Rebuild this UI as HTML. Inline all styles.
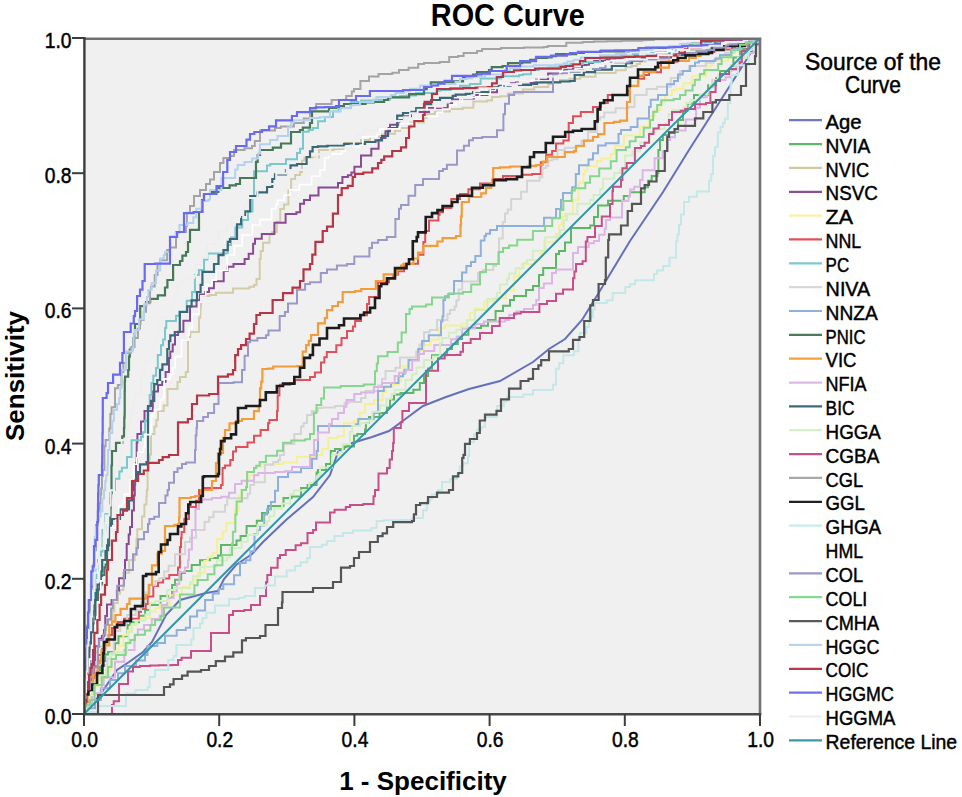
<!DOCTYPE html><html><head><meta charset="utf-8"><style>html,body{margin:0;padding:0;background:#fff;}svg{display:block}text{font-family:"Liberation Sans",sans-serif;fill:#000}.t{stroke:#000;stroke-width:0.45px}</style></head><body>
<svg width="962" height="797" viewBox="0 0 962 797">
<rect x="84" y="38" width="676" height="676" fill="#f0f0f0"/>
<defs><filter id="bl" x="0" y="0" width="1" height="1"><feGaussianBlur stdDeviation="0.35"/></filter></defs><g filter="url(#bl)"><path d="M84.0,714.0 100.0,695.0 117.0,670.0 129.0,662.0 143.0,652.0 152.0,642.0 166.0,615.0 180.0,600.0 206.0,593.0 218.0,591.0 224.0,579.0 236.0,565.0 252.0,554.0 263.0,542.0 286.0,520.0 313.0,497.0 330.0,475.0 338.0,452.0 352.0,443.0 372.0,437.0 389.0,431.0 404.0,420.0 423.0,406.0 446.0,397.0 469.0,389.0 500.0,381.0 533.0,362.0 549.0,349.0 565.0,339.0 582.0,320.0 598.0,294.0 630.0,241.0 663.0,192.0 689.0,150.0 745.0,62.0 760.0,38.0" fill="none" stroke="#6570bc" stroke-width="2.0" stroke-linejoin="miter"/>
<path d="M84.0,714.0 87.0,714.0 87.0,703.0 89.4,703.0 89.4,698.4 92.0,698.4 92.0,690.0 92.0,686.8 93.4,686.8 93.4,681.6 95.6,681.6 95.6,670.0 100.0,670.0 100.0,660.9 105.3,660.9 105.3,654.6 107.9,654.6 107.9,652.0 111.0,652.0 115.0,652.0 115.0,645.0 115.0,643.2 118.5,643.2 118.5,636.3 125.0,636.3 127.6,636.3 127.6,628.3 127.6,625.0 130.0,625.0 130.0,622.2 132.6,622.2 139.0,622.2 139.0,615.7 145.1,615.7 145.1,609.9 150.0,609.9 150.0,605.0 160.5,605.0 160.5,600.2 160.5,595.9 167.3,595.9 172.1,595.9 172.1,592.1 172.1,585.0 175.0,585.0 175.0,579.8 181.2,579.8 181.2,573.0 184.9,573.0 184.9,571.1 191.7,571.1 191.7,565.0 200.0,565.0 200.0,560.3 209.9,560.3 209.9,557.9 213.0,557.9 217.9,557.9 217.9,555.6 221.0,555.6 221.0,551.6 221.0,545.0 230.0,545.0 236.5,545.0 236.5,540.4 240.6,540.4 240.6,536.1 246.6,536.1 246.6,531.4 246.6,526.0 254.0,526.0 256.8,526.0 256.8,520.8 262.0,520.8 262.0,517.0 262.0,513.0 268.1,513.0 268.1,506.0 275.0,506.0 283.5,506.0 283.5,500.7 283.5,498.0 288.0,498.0 291.7,498.0 291.7,496.4 301.0,496.4 301.0,492.0 301.0,488.1 307.6,488.1 307.6,485.0 312.0,485.0 316.6,485.0 316.6,472.6 318.0,472.6 318.0,470.0 326.0,470.0 326.0,464.0 330.8,464.0 330.8,461.0 330.8,451.0 335.0,451.0 335.0,449.0 344.0,449.0 344.0,446.6 348.7,446.6 354.0,446.6 354.0,438.0 354.0,435.7 357.3,435.7 357.3,434.0 365.0,434.0 365.0,429.4 365.9,429.4 365.9,423.0 369.0,423.0 369.0,416.9 379.6,416.9 379.6,413.0 382.0,413.0 386.9,413.0 386.9,407.5 390.0,407.5 390.0,402.0 390.0,399.4 394.0,399.4 394.0,394.5 400.6,394.5 400.6,393.0 408.0,393.0 413.3,393.0 413.3,389.7 419.8,389.7 419.8,383.1 424.0,383.1 424.0,376.0 428.0,376.0 428.0,368.6 432.0,368.6 432.0,359.0 432.0,355.3 440.5,355.3 447.1,355.3 447.1,352.6 447.1,349.0 452.0,349.0 452.0,343.9 457.8,343.9 457.8,339.0 462.0,339.0 462.0,334.8 468.4,334.8 468.4,328.0 473.0,328.0 481.0,328.0 481.0,325.8 488.0,325.8 488.0,320.0 495.6,320.0 495.6,317.5 495.6,311.0 503.0,311.0 503.0,305.8 510.0,305.8 510.0,300.0 514.0,300.0 514.0,296.0 519.3,296.0 526.0,296.0 526.0,290.0 533.0,290.0 533.0,286.1 539.0,286.1 539.0,281.0 539.0,275.1 543.2,275.1 543.2,268.0 548.0,268.0 556.0,268.0 556.0,262.0 556.0,253.9 559.0,253.9 559.0,251.0 565.0,251.0 565.0,242.6 566.8,242.6 571.0,242.6 571.0,240.0 571.0,240.0 571.0,228.0 580.9,228.0 580.9,228.0 588.0,228.0 588.0,228.0 590.2,228.0 590.2,225.5 594.0,225.5 594.0,217.0 598.0,217.0 598.0,209.0 598.0,205.5 604.9,205.5 608.0,205.5 608.0,202.0 608.0,200.7 616.4,200.7 623.8,200.7 623.8,198.0 623.8,196.0 630.0,196.0 630.0,192.2 637.8,192.2 644.7,192.2 644.7,187.2 648.1,187.2 648.1,182.1 648.1,180.8 651.7,180.8 651.7,176.0 657.0,176.0 657.4,176.0 657.4,172.9 658.4,172.9 658.4,158.8 658.4,150.0 660.0,150.0 660.0,140.0 662.9,140.0 662.9,135.1 668.9,135.1 668.9,132.0 672.8,132.0 678.0,132.0 678.0,128.1 678.0,120.0 683.0,120.0 683.0,110.4 685.7,110.4 687.5,110.4 687.5,103.6 694.0,103.6 694.0,98.9 694.0,95.0 700.0,95.0 708.1,95.0 708.1,90.0 708.1,85.2 716.1,85.2 716.1,78.0 717.7,78.0 720.0,78.0 720.0,75.0 720.0,71.0 725.5,71.0 731.2,71.0 731.2,65.8 733.4,65.8 733.4,57.5 740.0,57.5 740.0,55.0 740.0,49.0 748.0,49.0 748.0,44.7 751.9,44.7 751.9,41.2 758.4,41.2 758.4,38.0 760.0,38.0" fill="none" stroke="#5cb865" stroke-width="2" stroke-linejoin="miter"/>
<path d="M84.0,714.0 85.7,714.0 85.7,702.9 85.7,695.1 86.3,695.1 87.9,695.1 87.9,686.2 90.0,686.2 90.0,680.0 90.0,670.5 91.5,670.5 91.5,661.0 93.2,661.0 93.2,652.5 96.0,652.5 98.0,652.5 98.0,650.0 98.0,646.4 101.0,646.4 103.3,646.4 103.3,635.5 105.7,635.5 105.7,629.2 105.7,620.0 108.0,620.0 112.8,620.0 112.8,610.9 114.3,610.9 114.3,603.0 117.7,603.0 117.7,593.6 120.0,593.6 120.0,590.0 123.4,590.0 123.4,584.1 123.4,572.7 125.4,572.7 129.2,572.7 129.2,569.1 129.2,560.0 132.0,560.0 134.7,560.0 134.7,555.0 136.5,555.0 136.5,545.4 136.5,539.2 137.3,539.2 137.3,529.2 141.1,529.2 142.0,529.2 142.0,520.0 142.0,516.6 143.1,516.6 144.4,516.6 144.4,504.4 146.4,504.4 146.4,496.7 146.8,496.7 146.8,490.0 147.6,490.0 147.6,484.9 147.6,470.0 149.0,470.0 149.0,459.3 149.7,459.3 149.7,454.4 150.8,454.4 151.0,454.4 151.0,440.2 151.0,434.0 152.0,434.0 154.4,434.0 154.4,426.5 156.4,426.5 156.4,420.1 158.0,420.1 158.0,411.0 163.7,411.0 163.7,405.6 167.5,405.6 167.5,398.7 167.5,389.0 169.0,389.0 177.5,389.0 177.5,382.0 180.0,382.0 180.0,377.0 185.8,377.0 185.8,372.0 188.0,372.0 188.0,370.0 188.0,370.0 188.0,361.1 188.0,356.3 188.0,356.3 188.0,337.0 188.0,337.0 190.3,337.0 190.3,333.4 190.3,332.0 199.0,332.0 199.0,317.8 199.6,317.8 200.3,317.8 200.3,312.5 200.5,312.5 200.5,306.8 201.0,306.8 201.0,296.0 209.5,296.0 209.5,295.1 216.0,295.1 216.0,294.0 216.0,292.8 221.8,292.8 233.0,292.8 233.0,292.0 233.0,288.6 240.7,288.6 249.4,288.6 249.4,286.8 254.0,286.8 254.0,285.0 256.5,285.0 256.5,279.1 259.7,279.1 259.7,266.6 259.7,258.9 260.7,258.9 260.7,251.0 263.0,251.0 263.0,242.7 265.2,242.7 269.5,242.7 269.5,234.7 272.2,234.7 272.2,231.9 276.8,231.9 276.8,221.8 280.3,221.8 280.3,213.4 280.3,209.0 284.0,209.0 284.0,204.4 286.3,204.4 288.4,204.4 288.4,190.6 291.1,190.6 291.1,184.7 291.1,179.0 293.0,179.0 295.1,179.0 295.1,174.9 300.1,174.9 300.1,171.9 302.0,171.9 302.0,162.0 302.0,160.8 304.4,160.8 304.4,157.6 309.1,157.6 319.0,157.6 319.0,153.0 319.0,149.9 333.8,149.9 333.8,149.0 340.0,149.0 345.3,149.0 345.3,146.1 345.3,143.0 353.8,143.0 361.0,143.0 361.0,140.0 369.9,140.0 369.9,137.0 379.3,137.0 379.3,134.6 385.0,134.6 385.0,133.8 394.9,133.8 394.9,130.7 400.0,130.7 400.0,128.0 410.8,128.0 410.8,124.0 410.8,122.5 414.7,122.5 423.9,122.5 423.9,119.8 423.9,118.1 426.5,118.1 426.5,113.9 434.9,113.9 434.9,111.4 439.4,111.4 450.0,111.4 450.0,110.0 450.0,109.0 454.6,109.0 462.8,109.0 462.8,107.7 473.4,107.7 473.4,104.2 473.4,101.4 487.0,101.4 487.0,100.5 492.0,100.5 492.0,97.0 500.0,97.0 500.0,96.2 507.8,96.2 507.8,93.5 519.2,93.5 522.8,93.5 522.8,92.2 522.8,89.5 534.2,89.5 534.2,86.9 541.8,86.9 548.3,86.9 548.3,85.4 548.3,84.1 551.1,84.1 551.1,82.0 560.0,82.0 560.0,80.1 569.5,80.1 569.5,78.8 574.4,78.8 580.1,78.8 580.1,76.7 595.5,76.7 595.5,75.4 595.5,73.0 605.7,73.0 615.7,73.0 615.7,70.3 625.7,70.3 625.7,68.9 625.7,66.9 631.6,66.9 631.6,66.0 636.6,66.0 636.6,64.0 640.0,64.0 640.0,61.4 645.5,61.4 645.5,58.8 655.1,58.8 655.1,56.8 662.8,56.8 669.0,56.8 669.0,56.1 676.7,56.1 676.7,53.4 685.2,53.4 685.2,50.8 685.2,50.0 700.0,50.0 707.6,50.0 707.6,48.9 707.6,47.9 717.1,47.9 717.1,46.3 729.5,46.3 729.5,44.0 736.4,44.0 744.4,44.0 744.4,41.6 744.4,39.2 751.2,39.2 751.2,38.0 760.0,38.0" fill="none" stroke="#d2cca8" stroke-width="2" stroke-linejoin="miter"/>
<path d="M84.0,714.0 84.0,707.2 86.0,707.2 86.6,707.2 86.6,695.8 86.6,690.0 88.0,690.0 90.3,690.0 90.3,679.8 92.5,679.8 92.5,673.3 92.5,666.4 94.4,666.4 94.4,660.0 95.0,660.0 95.0,646.2 98.9,646.2 98.9,638.8 100.4,638.8 101.9,638.8 101.9,636.0 104.0,636.0 104.0,630.0 105.3,630.0 105.3,623.6 105.3,615.9 107.0,615.9 107.0,604.4 111.6,604.4 111.6,600.0 115.0,600.0 116.9,600.0 116.9,593.2 116.9,590.5 119.0,590.5 119.0,578.3 121.2,578.3 125.0,578.3 125.0,565.0 125.0,560.0 125.9,560.0 126.7,560.0 126.7,544.1 128.7,544.1 128.7,534.5 130.0,534.5 130.0,527.0 132.0,527.0 132.0,520.0 132.0,510.4 133.1,510.4 133.9,510.4 133.9,495.5 134.8,495.5 134.8,484.6 135.2,484.6 135.2,480.3 136.0,480.3 136.0,470.0 136.0,462.8 136.4,462.8 136.7,462.8 136.7,452.1 136.7,442.5 137.4,442.5 137.4,434.0 138.0,434.0 141.0,434.0 141.0,426.0 141.0,421.5 144.5,421.5 144.5,411.0 146.0,411.0 152.8,411.0 152.8,402.5 152.8,391.5 156.0,391.5 158.0,391.5 158.0,389.0 158.0,385.1 162.2,385.1 162.2,381.7 165.6,381.7 165.6,372.0 169.0,372.0 169.0,357.9 170.3,357.9 170.3,351.6 172.7,351.6 172.7,344.4 173.2,344.4 175.0,344.4 175.0,335.0 178.1,335.0 178.1,331.8 183.4,331.8 183.4,327.7 183.4,320.7 185.3,320.7 190.0,320.7 190.0,312.0 190.0,306.4 196.5,306.4 196.5,300.3 199.9,300.3 199.9,294.6 205.2,294.6 205.2,292.0 209.0,292.0 209.0,288.2 213.9,288.2 213.9,281.2 219.0,281.2 223.7,281.2 223.7,276.0 223.7,271.0 227.4,271.0 227.4,266.8 233.5,266.8 233.5,264.0 237.0,264.0 244.6,264.0 244.6,259.1 248.7,259.1 248.7,253.7 253.1,253.7 253.1,249.2 253.1,243.8 255.0,243.8 255.0,238.8 261.8,238.8 261.8,234.0 266.0,234.0 274.4,234.0 274.4,227.8 274.4,222.7 283.2,222.7 285.6,222.7 285.6,218.9 285.6,214.0 288.0,214.0 296.4,214.0 296.4,212.3 300.1,212.3 300.1,207.2 300.1,203.7 304.0,203.7 304.0,200.0 310.0,200.0 310.0,195.4 312.7,195.4 318.5,195.4 318.5,193.1 318.5,187.5 327.5,187.5 338.0,187.5 338.0,183.0 342.4,183.0 342.4,176.9 347.9,176.9 347.9,175.2 351.4,175.2 351.4,172.6 354.4,172.6 354.4,166.7 361.0,166.7 361.0,160.0 361.0,155.5 364.9,155.5 371.3,155.5 371.3,148.8 378.6,148.8 378.6,144.6 378.6,140.0 381.0,140.0 381.0,138.0 385.5,138.0 385.5,131.2 390.0,131.2 390.0,124.7 399.4,124.7 399.4,120.0 404.0,120.0 404.0,116.3 411.0,116.3 411.0,112.9 413.8,112.9 413.8,111.9 421.1,111.9 429.0,111.9 429.0,109.0 429.0,108.0 440.1,108.0 447.7,108.0 447.7,105.1 447.7,103.0 452.0,103.0 452.0,99.6 460.2,99.6 460.2,98.6 463.1,98.6 474.0,98.6 474.0,95.0 487.5,95.0 487.5,92.2 497.0,92.2 497.0,90.7 497.0,88.0 500.0,88.0 500.0,85.8 510.9,85.8 510.9,83.3 516.1,83.3 516.1,82.4 527.1,82.4 536.0,82.4 536.0,80.0 536.0,79.1 539.9,79.1 548.1,79.1 548.1,76.9 548.1,73.4 553.0,73.4 564.4,73.4 564.4,69.8 573.0,69.8 573.0,68.6 582.0,68.6 582.0,65.0 589.0,65.0 589.0,63.0 594.3,63.0 594.3,61.0 605.1,61.0 605.1,59.3 614.8,59.3 614.8,58.3 620.9,58.3 620.9,56.8 630.1,56.8 630.1,56.3 640.0,56.3 640.0,55.0 640.0,53.9 656.2,53.9 656.2,52.8 664.9,52.8 674.2,52.8 674.2,52.2 679.0,52.2 679.0,51.1 679.0,49.0 683.6,49.0 683.6,47.1 690.0,47.1 700.0,47.1 700.0,46.0 706.6,46.0 706.6,44.8 706.6,44.0 720.8,44.0 720.8,42.6 727.1,42.6 727.1,40.9 735.3,40.9 735.3,40.0 740.3,40.0 746.9,40.0 746.9,38.9 760.0,38.9 760.0,38.0" fill="none" stroke="#8a4a94" stroke-width="2" stroke-linejoin="miter"/>
<path d="M84.0,714.0 84.0,707.4 87.7,707.4 87.7,701.7 93.5,701.7 93.5,695.0 95.0,695.0 95.0,686.3 97.9,686.3 97.9,678.0 99.5,678.0 105.9,678.0 105.9,673.2 105.9,670.0 110.0,670.0 111.5,670.0 111.5,660.1 111.5,654.9 115.9,654.9 115.9,650.9 118.5,650.9 118.5,645.7 123.2,645.7 123.2,635.0 128.0,635.0 128.0,630.4 131.3,630.4 131.3,625.3 136.7,625.3 136.7,618.3 142.7,618.3 150.0,618.3 150.0,615.0 150.0,611.6 155.5,611.6 155.5,608.1 159.8,608.1 159.8,604.4 162.3,604.4 170.0,604.4 170.0,600.0 170.0,595.3 175.9,595.3 181.9,595.3 181.9,590.1 181.9,587.0 186.2,587.0 190.0,587.0 190.0,584.0 193.2,584.0 193.2,579.6 197.5,579.6 197.5,572.9 204.4,572.9 204.4,568.4 204.4,561.1 207.8,561.1 207.8,557.2 212.6,557.2 212.6,553.0 216.0,553.0 217.2,553.0 217.2,544.8 217.2,538.9 219.1,538.9 222.6,538.9 222.6,531.6 226.4,531.6 226.4,526.3 226.4,522.9 231.2,522.9 235.0,522.9 235.0,515.0 235.0,510.6 236.2,510.6 238.7,510.6 238.7,499.3 238.7,496.3 241.4,496.3 241.4,490.0 246.0,490.0 246.0,480.7 248.8,480.7 248.8,475.6 251.7,475.6 254.0,475.6 254.0,470.0 254.0,468.1 257.4,468.1 257.4,467.1 261.0,467.1 261.0,464.0 275.0,464.0 282.5,464.0 282.5,462.5 297.0,462.5 297.0,462.0 297.0,456.7 304.3,456.7 314.0,456.7 314.0,455.0 322.0,455.0 322.0,449.0 328.4,449.0 328.4,442.5 328.4,438.0 335.0,438.0 337.5,438.0 337.5,436.3 344.0,436.3 344.0,432.0 344.0,423.3 349.6,423.3 354.0,423.3 354.0,421.0 359.8,421.0 359.8,412.7 365.0,412.7 365.0,408.0 365.0,404.1 371.3,404.1 374.0,404.1 374.0,400.0 382.6,400.0 382.6,392.2 386.0,392.2 386.0,387.0 392.9,387.0 392.9,384.6 399.0,384.6 399.0,381.0 401.0,381.0 401.0,376.6 403.0,376.6 403.0,370.0 403.0,366.3 408.8,366.3 408.8,360.2 415.1,360.2 417.7,360.2 417.7,358.6 417.7,350.6 422.4,350.6 424.0,350.6 424.0,345.0 430.4,345.0 430.4,341.8 430.4,339.8 435.9,339.8 438.8,339.8 438.8,332.1 438.8,328.0 445.0,328.0 445.0,325.4 453.6,325.4 462.0,325.4 462.0,323.8 467.0,323.8 467.0,320.0 469.9,320.0 469.9,312.7 474.9,312.7 474.9,308.5 484.0,308.5 484.0,305.0 484.0,301.5 487.4,301.5 494.0,301.5 494.0,298.0 505.8,298.0 505.8,296.0 505.8,290.6 510.2,290.6 514.0,290.6 514.0,285.0 514.0,276.3 519.5,276.3 519.5,268.0 522.0,268.0 522.0,264.1 526.1,264.1 535.0,264.1 535.0,260.0 540.6,260.0 540.6,253.1 544.0,253.1 544.0,247.0 544.0,241.7 552.8,241.7 556.0,241.7 556.0,234.0 559.2,234.0 559.2,230.4 559.2,225.1 562.2,225.1 562.2,217.0 565.0,217.0 565.0,213.7 568.9,213.7 573.0,213.7 573.0,200.0 578.7,200.0 578.7,191.0 578.7,182.8 580.8,182.8 583.3,182.8 583.3,173.8 585.1,173.8 585.1,170.8 587.0,170.8 587.0,166.0 596.9,166.0 596.9,163.6 596.9,161.1 601.6,161.1 601.6,158.6 611.0,158.6 611.0,153.9 614.8,153.9 614.8,146.0 621.0,146.0 623.8,146.0 623.8,141.6 623.8,135.5 632.5,135.5 640.0,135.5 640.0,129.2 640.0,126.6 646.7,126.6 649.0,126.6 649.0,123.0 649.0,116.3 651.5,116.3 654.9,116.3 654.9,112.6 654.9,109.9 660.3,109.9 660.3,102.2 665.0,102.2 665.0,95.0 672.0,95.0 672.0,90.0 676.5,90.0 676.5,88.7 683.4,88.7 683.4,83.2 688.4,83.2 692.0,83.2 692.0,78.0 692.0,75.8 699.6,75.8 706.0,75.8 706.0,70.9 706.0,65.7 712.1,65.7 712.1,61.0 720.0,61.0 728.4,61.0 728.4,55.2 731.3,55.2 731.3,51.2 738.1,51.2 738.1,45.3 741.4,45.3 741.4,43.5 750.8,43.5 750.8,39.6 760.0,39.6 760.0,38.0" fill="none" stroke="#f5ef96" stroke-width="2" stroke-linejoin="miter"/>
<path d="M84.0,714.0 86.4,714.0 86.4,703.2 88.0,703.2 88.0,695.0 88.0,682.3 90.8,682.3 90.8,678.7 93.1,678.7 94.0,678.7 94.0,675.0 94.0,666.3 96.0,666.3 98.2,666.3 98.2,664.1 98.2,655.0 102.0,655.0 102.0,649.3 105.2,649.3 105.2,641.6 108.6,641.6 108.6,635.0 112.0,635.0 112.0,628.0 117.5,628.0 117.5,622.0 124.0,622.0 124.0,618.8 128.9,618.8 138.8,618.8 138.8,611.8 141.0,611.8 141.0,609.0 145.8,609.0 145.8,604.1 147.7,604.1 147.7,596.5 153.3,596.5 153.3,591.1 153.3,586.0 158.0,586.0 158.0,582.5 163.1,582.5 163.1,578.6 169.3,578.6 169.3,575.0 178.0,575.0 178.0,567.4 178.8,567.4 179.9,567.4 179.9,560.5 179.9,547.0 181.0,547.0 181.0,538.1 181.6,538.1 181.6,532.0 182.0,532.0 184.3,532.0 184.3,524.8 184.3,519.0 189.0,519.0 189.0,507.0 191.0,507.0 196.0,507.0 196.0,500.8 199.0,500.8 199.0,498.0 199.0,490.0 204.0,490.0 204.0,487.9 213.6,487.9 221.0,487.9 221.0,485.0 222.6,485.0 222.6,473.7 222.6,468.0 225.0,468.0 225.0,465.4 230.3,465.4 230.3,460.0 233.0,460.0 233.0,451.5 236.0,451.5 236.0,447.0 238.0,447.0 247.5,447.0 247.5,442.6 254.0,442.6 254.0,438.0 254.0,435.7 260.6,435.7 260.6,430.0 268.0,430.0 268.0,423.3 269.4,423.3 269.4,420.1 273.9,420.1 277.0,420.1 277.0,411.0 277.7,411.0 277.7,405.5 277.7,395.5 279.4,395.5 279.4,386.0 280.0,386.0 280.0,384.7 290.1,384.7 290.1,383.2 295.0,383.2 295.0,380.1 301.9,380.1 310.0,380.1 310.0,377.0 314.9,377.0 314.9,372.5 321.0,372.5 321.0,366.0 321.0,362.5 324.3,362.5 324.3,357.2 326.8,357.2 326.8,352.0 333.0,352.0 336.3,352.0 336.3,348.8 336.3,345.2 341.5,345.2 341.5,338.0 347.0,338.0 347.0,331.0 352.9,331.0 352.9,326.5 355.1,326.5 355.1,321.0 361.0,321.0 361.0,315.2 365.2,315.2 367.0,315.2 367.0,304.0 369.1,304.0 369.1,297.0 378.0,297.0 378.0,290.0 378.0,282.3 380.0,282.3 389.0,282.3 389.0,278.0 393.3,278.0 393.3,274.8 397.9,274.8 397.9,271.2 404.0,271.2 404.0,267.0 404.0,263.8 410.3,263.8 418.0,263.8 418.0,262.0 418.0,254.7 419.3,254.7 423.4,254.7 423.4,242.0 425.2,242.0 425.2,235.3 425.2,231.0 429.0,231.0 429.0,220.6 434.2,220.6 438.4,220.6 438.4,215.0 439.5,215.0 439.5,212.2 443.0,212.2 443.0,208.0 451.3,208.0 451.3,204.2 451.3,199.1 455.9,199.1 460.0,199.1 460.0,197.0 460.0,194.1 468.4,194.1 468.4,189.2 473.9,189.2 480.0,189.2 480.0,188.0 480.0,183.4 489.5,183.4 492.6,183.4 492.6,179.0 503.0,179.0 503.0,177.0 503.0,176.0 513.3,176.0 522.2,176.0 522.2,175.5 522.2,174.8 532.1,174.8 532.1,174.0 536.0,174.0 540.8,174.0 540.8,164.5 540.8,162.3 546.2,162.3 546.2,154.8 552.1,154.8 552.1,151.0 556.0,151.0 556.0,143.4 560.5,143.4 563.4,143.4 563.4,140.6 568.7,140.6 568.7,132.0 568.7,123.0 573.0,123.0 573.0,116.3 580.8,116.3 580.8,112.0 587.0,112.0 593.0,112.0 593.0,106.9 601.0,106.9 601.0,103.0 607.8,103.0 607.8,97.7 607.8,95.0 615.0,95.0 627.5,95.0 627.5,90.6 630.0,90.6 630.0,86.0 638.2,86.0 638.2,84.5 638.2,78.8 644.2,78.8 644.2,75.0 649.0,75.0 649.0,72.2 652.3,72.2 661.0,72.2 661.0,66.0 661.0,61.7 669.0,61.7 677.3,61.7 677.3,56.7 677.3,55.0 683.0,55.0 688.2,55.0 688.2,54.7 688.2,53.2 699.1,53.2 706.0,53.2 706.0,52.0 714.3,52.0 714.3,50.1 721.6,50.1 721.6,49.5 732.1,49.5 732.1,47.9 735.0,47.9 735.0,46.0 737.8,46.0 737.8,44.1 748.8,44.1 748.8,40.9 760.0,40.9 760.0,38.0" fill="none" stroke="#e0505a" stroke-width="2" stroke-linejoin="miter"/>
<path d="M84.0,714.0 84.0,706.7 84.6,706.7 84.9,706.7 84.9,692.9 84.9,685.3 85.4,685.3 86.0,685.3 86.0,680.0 86.8,680.0 86.8,671.9 87.3,671.9 87.3,658.8 88.2,658.8 88.2,645.3 89.0,645.3 89.0,640.0 89.8,640.0 89.8,629.5 90.4,629.5 90.4,625.3 91.6,625.3 91.6,612.3 93.0,612.3 93.0,600.0 94.0,600.0 94.0,590.2 95.2,590.2 95.2,578.0 96.4,578.0 96.4,569.4 98.0,569.4 98.0,560.0 99.0,560.0 99.0,555.7 101.0,555.7 101.0,551.5 102.5,551.5 102.5,542.7 102.5,530.0 104.0,530.0 105.4,530.0 105.4,522.8 105.4,514.1 106.3,514.1 110.0,514.1 110.0,502.6 110.0,493.1 111.8,493.1 111.8,490.0 115.0,490.0 115.0,478.7 119.4,478.7 119.4,471.6 121.9,471.6 121.9,467.8 123.1,467.8 127.0,467.8 127.0,457.0 131.6,457.0 131.6,449.8 131.6,440.3 135.1,440.3 141.0,440.3 141.0,437.0 142.8,437.0 142.8,432.2 145.1,432.2 145.1,420.8 147.8,420.8 147.8,408.5 149.7,408.5 149.7,398.5 149.7,395.1 151.4,395.1 151.4,383.0 152.0,383.0 153.3,383.0 153.3,375.7 156.0,375.7 156.0,367.9 157.8,367.9 157.8,363.1 157.8,355.0 161.0,355.0 161.0,345.2 163.1,345.2 163.1,339.5 165.0,339.5 165.0,328.1 166.3,328.1 166.3,321.0 169.0,321.0 176.0,321.0 176.0,318.2 176.0,315.8 179.5,315.8 179.5,311.6 184.0,311.6 186.7,311.6 186.7,300.8 192.0,300.8 192.0,292.0 194.9,292.0 194.9,282.3 194.9,275.1 196.2,275.1 198.9,275.1 198.9,270.1 204.0,270.1 204.0,263.0 204.0,259.4 207.4,259.4 207.4,253.6 217.7,253.6 227.6,253.6 227.6,249.3 227.6,245.0 231.0,245.0 231.0,237.4 235.4,237.4 235.4,227.5 237.5,227.5 242.2,227.5 242.2,223.5 242.2,220.0 248.0,220.0 248.0,211.6 249.6,211.6 252.5,211.6 252.5,203.7 252.5,197.0 254.0,197.0 254.0,183.9 254.0,183.9 254.0,175.0 254.0,175.0 254.0,171.3 259.5,171.3 267.0,171.3 267.0,166.0 267.0,165.5 270.3,165.5 270.3,164.0 286.0,164.0 286.0,159.3 293.1,159.3 297.0,159.3 297.0,153.0 300.0,153.0 300.0,148.8 303.0,148.8 303.0,140.0 303.0,131.8 308.8,131.8 308.8,129.9 312.8,129.9 312.8,128.0 318.0,128.0 318.0,121.3 324.9,121.3 324.9,117.1 327.2,117.1 333.0,117.1 333.0,113.0 333.0,111.3 338.6,111.3 338.6,108.0 344.0,108.0 350.7,108.0 350.7,105.2 350.7,102.0 361.0,102.0 361.0,100.6 374.9,100.6 374.9,99.7 379.6,99.7 389.9,99.7 389.9,97.3 400.0,97.3 400.0,96.0 406.3,96.0 406.3,95.5 416.0,95.5 416.0,94.1 416.0,93.0 424.0,93.0 436.6,93.0 436.6,91.4 436.6,90.7 440.6,90.7 440.6,90.1 450.8,90.1 450.8,88.3 460.0,88.3 460.0,85.7 463.7,85.7 470.0,85.7 470.0,84.0 480.6,84.0 480.6,81.2 480.6,78.4 492.9,78.4 501.2,78.4 501.2,77.2 501.2,76.3 511.3,76.3 519.2,76.3 519.2,74.9 523.1,74.9 523.1,74.3 530.9,74.3 530.9,73.2 530.9,70.0 536.0,70.0 538.8,70.0 538.8,68.2 548.2,68.2 548.2,67.6 558.8,67.6 558.8,65.4 570.3,65.4 570.3,63.9 582.7,63.9 582.7,63.4 582.7,62.2 597.0,62.2 600.0,62.2 600.0,60.0 600.0,58.8 604.7,58.8 604.7,57.2 610.3,57.2 610.3,56.6 620.7,56.6 620.7,55.8 632.7,55.8 632.7,54.3 647.6,54.3 651.1,54.3 651.1,52.9 666.2,52.9 666.2,52.0 672.7,52.0 672.7,51.4 672.7,50.0 680.0,50.0 680.0,48.5 687.6,48.5 693.2,48.5 693.2,47.3 693.2,45.6 697.6,45.6 697.6,44.4 702.2,44.4 716.8,44.4 716.8,43.0 729.3,43.0 729.3,42.5 742.5,42.5 742.5,40.7 754.1,40.7 754.1,39.3 754.1,38.0 760.0,38.0" fill="none" stroke="#78c8cc" stroke-width="2" stroke-linejoin="miter"/>
<path d="M84.0,714.0 84.0,705.0 86.8,705.0 90.0,705.0 90.0,697.6 92.0,697.6 92.0,690.0 92.0,682.5 94.7,682.5 95.8,682.5 95.8,676.7 95.8,668.5 98.0,668.5 98.0,665.0 102.0,665.0 107.4,665.0 107.4,658.6 110.7,658.6 110.7,653.0 113.7,653.0 113.7,649.1 113.7,640.0 115.0,640.0 115.0,631.0 120.3,631.0 120.3,624.8 124.3,624.8 124.3,623.1 127.0,623.1 127.0,615.0 130.0,615.0 135.7,615.0 135.7,610.1 141.1,610.1 141.1,601.9 145.5,601.9 145.5,592.4 150.0,592.4 150.0,590.0 150.0,585.2 155.4,585.2 155.4,580.9 159.3,580.9 159.3,578.3 164.2,578.3 164.2,571.6 168.6,571.6 168.6,565.8 170.7,565.8 175.0,565.8 175.0,560.0 175.0,554.3 178.4,554.3 185.1,554.3 185.1,547.4 185.1,541.9 186.6,541.9 190.0,541.9 190.0,539.4 190.0,537.7 196.0,537.7 196.0,530.0 200.0,530.0 204.6,530.0 204.6,523.5 204.6,521.7 209.2,521.7 209.2,517.2 213.5,517.2 213.5,511.8 218.9,511.8 225.0,511.8 225.0,505.0 227.2,505.0 227.2,502.8 227.2,498.2 236.3,498.2 247.6,498.2 247.6,493.7 250.2,493.7 250.2,488.7 250.2,485.0 254.0,485.0 254.0,482.2 262.0,482.2 264.8,482.2 264.8,474.5 264.8,464.7 273.3,464.7 273.3,462.1 278.2,462.1 278.2,460.0 280.0,460.0 280.0,455.0 281.6,455.0 283.9,455.0 283.9,448.7 283.9,444.1 288.1,444.1 294.3,444.1 294.3,439.3 294.3,434.0 301.0,434.0 301.0,426.6 303.6,426.6 303.6,423.0 307.0,423.0 307.0,414.9 311.8,414.9 311.8,411.0 315.7,411.0 318.0,411.0 318.0,408.0 322.1,408.0 322.1,407.6 335.0,407.6 335.0,406.0 344.5,406.0 344.5,404.5 344.5,403.3 348.3,403.3 348.3,402.0 361.0,402.0 361.0,397.9 365.5,397.9 365.5,391.0 373.0,391.0 378.0,391.0 378.0,385.6 382.0,385.6 382.0,379.0 385.5,379.0 385.5,373.7 385.5,370.9 393.4,370.9 395.4,370.9 395.4,367.7 400.0,367.7 400.0,360.0 400.0,357.4 407.1,357.4 416.2,357.4 416.2,351.6 419.5,351.6 419.5,344.4 424.0,344.4 424.0,340.0 424.0,332.2 429.6,332.2 429.6,330.0 431.7,330.0 437.0,330.0 437.0,325.7 437.0,319.9 439.6,319.9 447.5,319.9 447.5,314.1 450.0,314.1 450.0,310.0 454.6,310.0 454.6,306.5 456.4,306.5 456.4,300.3 458.7,300.3 458.7,293.6 458.7,289.6 462.2,289.6 462.2,281.6 469.9,281.6 478.0,281.6 478.0,276.4 478.0,272.9 482.7,272.9 482.7,270.0 486.0,270.0 493.2,270.0 493.2,266.1 496.0,266.1 496.0,264.0 498.1,264.0 498.1,252.7 499.0,252.7 499.0,243.0 499.0,238.5 500.3,238.5 502.7,238.5 502.7,230.3 502.7,222.0 505.0,222.0 505.0,213.6 507.7,213.6 507.7,209.6 511.2,209.6 511.2,199.0 516.0,199.0 521.1,199.0 521.1,191.7 527.0,191.7 527.0,184.2 527.0,180.7 537.0,180.7 539.6,180.7 539.6,177.2 542.4,177.2 542.4,168.0 546.0,168.0 546.0,166.0 548.3,166.0 548.3,160.5 552.2,160.5 552.2,159.3 557.6,159.3 557.6,155.4 557.6,150.0 565.0,150.0 565.0,147.7 576.4,147.7 576.4,145.5 581.5,145.5 581.5,140.7 588.1,140.7 588.1,132.0 590.9,132.0 597.1,132.0 597.1,125.7 597.1,120.0 600.0,120.0 600.0,117.3 604.3,117.3 604.3,112.4 615.6,112.4 615.6,108.2 623.1,108.2 628.4,108.2 628.4,107.0 634.5,107.0 634.5,101.4 634.5,95.0 640.0,95.0 646.6,95.0 646.6,93.4 646.6,89.1 657.1,89.1 657.1,86.7 663.4,86.7 670.7,86.7 670.7,82.2 670.7,78.1 676.2,78.1 680.0,78.1 680.0,75.0 680.0,70.9 688.9,70.9 688.9,65.9 694.6,65.9 705.7,65.9 705.7,62.7 713.6,62.7 713.6,59.9 716.3,59.9 716.3,57.5 720.0,57.5 720.0,55.0 725.1,55.0 725.1,53.9 725.1,52.8 734.6,52.8 734.6,48.8 741.2,48.8 741.2,43.6 745.8,43.6 753.8,43.6 753.8,41.6 760.0,41.6 760.0,38.0" fill="none" stroke="#d4d4d4" stroke-width="2" stroke-linejoin="miter"/>
<path d="M84.0,714.0 86.1,714.0 86.1,708.3 95.0,708.3 95.0,700.0 100.9,700.0 100.9,693.7 100.9,688.2 105.5,688.2 110.0,688.2 110.0,685.0 110.0,680.0 118.0,680.0 118.0,673.2 121.7,673.2 125.0,673.2 125.0,668.0 125.0,665.9 136.1,665.9 136.1,660.5 140.2,660.5 145.0,660.5 145.0,655.0 147.4,655.0 147.4,650.9 147.4,646.1 154.7,646.1 157.3,646.1 157.3,643.0 165.0,643.0 165.0,640.0 165.0,635.8 168.9,635.8 176.7,635.8 176.7,630.1 185.8,630.1 185.8,627.8 190.0,627.8 190.0,620.0 190.0,616.4 193.5,616.4 197.1,616.4 197.1,610.5 205.1,610.5 205.1,604.0 205.1,600.0 210.0,600.0 212.8,600.0 212.8,597.8 212.8,593.6 218.7,593.6 218.7,589.1 223.3,589.1 223.3,584.2 228.5,584.2 234.1,584.2 234.1,575.2 240.0,575.2 240.0,570.0 240.0,563.1 245.7,563.1 245.7,560.3 247.2,560.3 250.4,560.3 250.4,551.2 254.5,551.2 254.5,541.0 254.5,533.9 257.5,533.9 257.5,530.0 260.0,530.0 260.0,525.6 264.2,525.6 264.2,514.6 267.0,514.6 267.0,509.2 270.9,509.2 270.9,502.0 275.0,502.0 275.0,490.8 276.3,490.8 278.0,490.8 278.0,481.0 278.0,477.0 288.0,477.0 288.0,472.2 295.6,472.2 301.0,472.2 301.0,468.0 312.0,468.0 312.0,466.0 312.0,458.8 316.6,458.8 316.6,451.0 318.0,451.0 318.0,439.4 318.0,439.4 318.0,439.4 318.0,426.0 318.0,426.0 329.0,426.0 336.9,426.0 336.9,426.0 336.9,426.0 342.6,426.0 342.6,426.0 356.0,426.0 356.0,424.2 358.3,424.2 358.3,419.0 365.0,419.0 373.8,419.0 373.8,417.3 373.8,413.0 378.0,413.0 378.0,413.0 378.0,401.8 378.0,401.8 378.0,391.0 383.8,391.0 383.8,386.7 391.0,386.7 391.0,383.0 398.5,383.0 398.5,376.2 403.0,376.2 403.0,374.0 404.5,374.0 404.5,369.7 408.5,369.7 408.5,364.9 408.5,360.0 415.0,360.0 418.3,360.0 418.3,352.0 418.3,349.0 422.1,349.0 422.1,341.0 424.0,341.0 428.8,341.0 428.8,337.4 428.8,335.2 431.2,335.2 441.0,335.2 441.0,328.0 441.0,321.4 442.5,321.4 442.5,316.6 443.4,316.6 443.4,300.0 445.0,300.0 445.0,296.3 448.3,296.3 448.3,294.0 454.0,294.0 454.0,281.0 454.0,281.0 462.0,281.0 462.0,279.0 462.0,272.6 466.4,272.6 466.4,266.0 471.0,266.0 471.0,262.0 475.3,262.0 475.3,256.0 480.0,256.0 480.8,256.0 480.8,250.3 480.8,240.6 484.5,240.6 484.5,236.0 486.0,236.0 486.0,233.8 490.0,233.8 490.0,230.0 497.0,230.0 497.0,226.0 501.0,226.0 507.8,226.0 507.8,226.0 517.0,226.0 517.0,226.0 517.0,226.0 522.6,226.0 539.0,226.0 539.0,226.0 544.0,226.0 544.0,221.0 544.0,217.7 549.8,217.7 556.0,217.7 556.0,215.0 556.0,209.0 561.0,209.0 561.0,200.0 563.0,200.0 563.0,193.0 567.5,193.0 572.2,193.0 572.2,187.2 575.8,187.2 575.8,182.1 575.8,174.0 579.0,174.0 579.0,165.2 582.7,165.2 588.5,165.2 588.5,159.5 593.0,159.5 593.0,157.0 593.0,153.3 598.0,153.3 598.0,145.4 605.7,145.4 605.7,143.3 608.1,143.3 618.5,143.3 618.5,140.2 618.5,134.0 621.0,134.0 621.0,130.0 630.7,130.0 630.7,127.1 633.9,127.1 637.5,127.1 637.5,121.5 637.5,118.4 642.4,118.4 649.0,118.4 649.0,115.0 649.0,107.1 650.7,107.1 650.7,99.7 653.0,99.7 658.0,99.7 658.0,95.0 667.0,95.0 667.0,89.5 667.0,84.2 674.0,84.2 674.0,81.0 678.0,81.0 678.0,74.5 682.7,74.5 682.7,71.0 690.2,71.0 690.2,66.0 695.0,66.0 695.0,62.4 699.0,62.4 699.0,60.9 704.4,60.9 715.3,60.9 715.3,58.7 720.0,58.7 720.0,55.0 731.1,55.0 731.1,49.9 733.8,49.9 733.8,48.7 739.3,48.7 739.3,47.7 741.9,47.7 741.9,44.8 741.9,40.0 750.7,40.0 760.0,40.0 760.0,38.0" fill="none" stroke="#8eb0dc" stroke-width="2" stroke-linejoin="miter"/>
<path d="M84.0,714.0 84.6,714.0 84.6,708.9 84.6,693.4 85.7,693.4 85.7,688.7 86.1,688.7 86.1,678.1 86.6,678.1 86.6,670.0 87.0,670.0 87.9,670.0 87.9,655.8 87.9,650.6 89.4,650.6 89.8,650.6 89.8,634.3 91.0,634.3 91.0,630.0 92.7,630.0 92.7,619.8 92.7,614.6 93.6,614.6 93.6,611.0 94.7,611.0 94.7,600.0 96.0,600.0 98.0,600.0 98.0,589.4 100.2,589.4 100.2,583.4 102.0,583.4 102.0,575.0 104.5,575.0 104.5,567.4 105.7,567.4 105.7,564.5 107.0,564.5 107.0,550.0 108.1,550.0 108.1,539.6 110.0,539.6 110.0,532.0 110.3,532.0 110.3,519.2 110.3,515.7 110.5,515.7 110.5,508.2 110.7,508.2 110.7,498.0 111.0,498.0 111.0,493.3 111.1,493.3 111.5,493.3 111.5,481.8 111.5,465.5 111.7,465.5 112.0,465.5 112.0,460.0 112.0,451.0 116.0,451.0 116.0,442.8 119.1,442.8 122.3,442.8 122.3,436.3 124.0,436.3 124.0,428.0 124.3,428.0 124.3,417.7 124.6,417.7 124.6,414.2 124.7,414.2 124.7,402.6 124.7,390.9 124.8,390.9 124.8,381.0 125.0,381.0 125.0,376.7 128.2,376.7 128.2,370.0 129.0,370.0 129.0,356.7 129.8,356.7 129.8,349.7 132.2,349.7 132.2,347.0 133.0,347.0 134.2,347.0 134.2,334.2 135.0,334.2 135.0,324.0 140.2,324.0 140.2,318.9 140.2,306.2 142.5,306.2 146.0,306.2 146.0,302.0 150.2,302.0 150.2,298.9 157.8,298.9 157.8,295.3 165.0,295.3 165.0,294.0 165.0,287.5 167.4,287.5 167.4,280.0 170.0,280.0 173.1,280.0 173.1,270.2 173.1,265.0 174.0,265.0 180.0,265.0 180.0,261.0 182.4,261.0 182.4,255.7 186.0,255.7 186.0,252.0 188.0,252.0 188.0,242.0 190.0,242.0 190.0,232.0 190.0,229.9 193.2,229.9 199.0,229.9 199.0,220.6 199.0,212.0 202.0,212.0 202.0,200.0 204.0,200.0 204.0,194.0 212.0,194.0 212.0,191.9 218.4,191.9 218.4,188.0 224.0,188.0 229.6,188.0 229.6,185.4 236.0,185.4 236.0,184.0 240.0,184.0 240.0,180.0 240.0,178.0 248.0,178.0 256.0,178.0 256.0,172.0 256.0,161.8 257.7,161.8 257.7,155.0 260.0,155.0 260.0,150.0 267.0,150.0 272.8,150.0 272.8,147.7 281.0,147.7 281.0,146.0 281.0,143.5 285.0,143.5 291.0,143.5 291.0,140.0 291.0,132.0 295.0,132.0 300.0,132.0 300.0,130.0 302.8,130.0 302.8,127.7 310.0,127.7 310.0,123.0 312.0,123.0 312.0,113.0 312.0,111.4 318.3,111.4 328.9,111.4 328.9,108.9 328.9,107.8 336.2,107.8 336.2,106.0 344.0,106.0 344.0,104.0 356.0,104.0 365.5,104.0 365.5,102.5 374.0,102.5 374.0,102.0 384.1,102.0 384.1,101.4 384.1,100.0 388.0,100.0 388.0,97.4 398.9,97.4 409.1,97.4 409.1,95.4 409.1,94.2 414.8,94.2 424.0,94.2 424.0,92.0 424.0,89.2 426.7,89.2 426.7,86.7 430.8,86.7 430.8,82.3 442.2,82.3 454.1,82.3 454.1,81.3 463.0,81.3 463.0,78.0 463.0,76.8 473.1,76.8 473.1,74.5 477.0,74.5 477.0,72.2 489.0,72.2 489.0,70.1 491.7,70.1 491.7,67.2 502.6,67.2 502.6,66.0 508.0,66.0 508.0,63.1 514.1,63.1 522.1,63.1 522.1,62.4 530.1,62.4 530.1,59.8 536.0,59.8 536.0,58.0 546.9,58.0 546.9,57.4 551.6,57.4 551.6,56.2 556.0,56.2 556.0,55.3 556.0,54.2 562.3,54.2 576.2,54.2 576.2,53.4 576.2,53.0 583.8,53.0 583.8,52.0 600.0,52.0 600.0,51.3 615.1,51.3 628.8,51.3 628.8,50.8 633.2,50.8 633.2,50.2 638.3,50.2 638.3,49.4 646.3,49.4 646.3,49.2 646.3,48.8 650.1,48.8 650.1,48.0 665.4,48.0 665.4,47.0 671.2,47.0 671.2,46.0 680.0,46.0 680.0,44.8 691.9,44.8 691.9,43.5 705.0,43.5 705.0,42.8 708.1,42.8 715.6,42.8 715.6,41.5 715.6,41.1 729.7,41.1 739.3,41.1 739.3,40.5 739.3,39.8 747.1,39.8 747.1,38.6 751.1,38.6 760.0,38.6 760.0,38.0" fill="none" stroke="#46785a" stroke-width="2.2" stroke-linejoin="miter"/>
<path d="M84.0,714.0 85.5,714.0 85.5,706.8 85.5,700.0 88.0,700.0 88.0,690.7 91.2,690.7 93.0,690.7 93.0,685.0 93.0,675.1 96.2,675.1 98.0,675.1 98.0,670.0 98.0,662.7 100.8,662.7 100.8,658.3 101.5,658.3 101.5,650.0 105.0,650.0 105.0,645.4 105.9,645.4 109.3,645.4 109.3,639.0 109.3,625.0 112.0,625.0 112.0,621.6 115.4,621.6 115.4,615.0 120.6,615.0 120.6,608.8 124.8,608.8 127.0,608.8 127.0,604.0 129.5,604.0 129.5,600.8 129.5,598.6 137.2,598.6 146.0,598.6 146.0,595.0 148.8,595.0 148.8,591.3 148.8,584.9 150.3,584.9 152.0,584.9 152.0,570.0 152.0,565.3 154.9,565.3 157.5,565.3 157.5,553.6 161.8,553.6 161.8,550.9 165.0,550.9 165.0,540.0 165.0,526.0 165.0,526.0 174.5,526.0 174.5,524.8 178.0,524.8 178.0,524.0 179.1,524.0 179.1,517.3 179.5,517.3 179.5,510.5 179.5,498.0 180.0,498.0 190.8,498.0 190.8,497.0 195.0,497.0 195.0,496.0 201.1,496.0 201.1,493.2 201.1,490.0 208.0,490.0 212.0,490.0 212.0,481.0 216.0,481.0 216.0,472.0 216.0,463.2 216.7,463.2 218.0,463.2 218.0,453.0 223.0,453.0 223.0,445.0 223.0,437.8 223.8,437.8 225.0,437.8 225.0,430.0 229.5,430.0 229.5,427.4 229.5,423.4 236.0,423.4 236.0,421.0 242.0,421.0 242.0,419.0 254.0,419.0 254.0,411.2 256.8,411.2 258.9,411.2 258.9,405.5 260.0,405.5 260.0,397.0 260.0,388.3 261.2,388.3 261.2,381.7 262.4,381.7 262.4,369.0 263.0,369.0 268.3,369.0 268.3,368.7 273.2,368.7 273.2,367.7 273.2,366.5 284.5,366.5 297.0,366.5 297.0,366.0 302.7,366.0 302.7,359.1 302.7,351.6 306.1,351.6 306.1,345.2 308.8,345.2 308.8,340.9 311.0,340.9 311.0,335.0 318.0,335.0 318.0,323.4 320.0,323.4 324.8,323.4 324.8,320.7 324.8,318.0 327.0,318.0 327.0,310.2 332.3,310.2 332.3,306.0 338.0,306.0 338.0,302.1 342.7,302.1 342.7,292.0 347.0,292.0 355.0,292.0 355.0,291.2 361.2,291.2 361.2,290.7 361.2,289.0 372.0,289.0 375.8,289.0 375.8,284.4 375.8,281.0 381.0,281.0 383.7,281.0 383.7,278.3 383.7,274.4 396.7,274.4 396.7,270.0 401.0,270.0 401.0,265.7 403.4,265.7 403.4,264.0 410.0,264.0 413.5,264.0 413.5,258.5 418.0,258.5 418.0,252.7 423.0,252.7 423.0,248.0 423.0,245.8 434.3,245.8 437.4,245.8 437.4,241.5 442.6,241.5 442.6,239.9 442.6,238.2 456.0,238.2 456.0,236.0 460.0,236.0 460.5,236.0 460.5,225.1 461.0,225.1 461.0,216.4 461.8,216.4 461.8,213.6 461.8,202.0 463.0,202.0 469.0,202.0 469.0,199.0 469.0,197.0 474.9,197.0 481.2,197.0 481.2,193.4 486.0,193.4 486.0,188.0 491.3,188.0 491.3,183.5 493.2,183.5 493.2,174.6 493.2,168.0 500.0,168.0 500.0,167.3 510.3,167.3 510.3,166.5 521.9,166.5 527.6,166.5 527.6,165.9 536.0,165.9 536.0,165.0 542.7,165.0 542.7,161.7 547.1,161.7 547.1,159.7 547.1,157.0 559.0,157.0 564.8,157.0 564.8,152.2 573.9,152.2 573.9,151.1 576.0,151.1 576.0,146.0 583.9,146.0 583.9,142.2 583.9,140.6 590.9,140.6 593.0,140.6 593.0,137.0 598.2,137.0 598.2,134.2 604.4,134.2 604.4,127.9 604.4,123.0 607.0,123.0 613.9,123.0 613.9,121.9 620.1,121.9 620.1,120.7 627.0,120.7 627.0,117.0 627.0,102.0 627.7,102.0 630.0,102.0 630.0,95.0 630.0,85.9 633.8,85.9 638.0,85.9 638.0,80.0 638.0,75.9 643.6,75.9 643.6,72.0 655.0,72.0 655.0,67.7 663.1,67.7 669.0,67.7 669.0,63.0 669.0,61.0 678.7,61.0 689.0,61.0 689.0,58.0 695.9,58.0 695.9,55.9 700.6,55.9 700.6,53.5 700.6,52.0 712.0,52.0 712.0,49.4 719.9,49.4 724.6,49.4 724.6,47.4 724.6,45.0 735.0,45.0 743.5,45.0 743.5,42.4 751.0,42.4 751.0,41.4 751.0,38.0 760.0,38.0" fill="none" stroke="#f39c3a" stroke-width="2.2" stroke-linejoin="miter"/>
<path d="M84.0,714.0 84.0,703.9 85.8,703.9 92.0,703.9 92.0,700.0 92.0,693.2 94.5,693.2 102.0,693.2 102.0,685.0 103.7,685.0 103.7,679.6 103.7,677.3 109.5,677.3 115.0,677.3 115.0,668.0 115.0,661.8 120.7,661.8 124.3,661.8 124.3,655.8 124.3,650.0 130.0,650.0 134.5,650.0 134.5,642.1 134.5,635.2 137.9,635.2 137.9,629.6 144.0,629.6 144.0,625.0 150.0,625.0 151.8,625.0 151.8,618.9 159.7,618.9 159.7,615.7 161.9,615.7 161.9,610.6 161.9,604.9 167.3,604.9 167.3,598.0 170.0,598.0 173.6,598.0 173.6,591.6 176.7,591.6 176.7,584.1 179.3,584.1 179.3,578.1 179.3,572.0 184.9,572.0 184.9,567.4 186.7,567.4 188.0,567.4 188.0,560.0 188.9,560.0 188.9,557.1 188.9,549.5 190.0,549.5 191.9,549.5 191.9,540.1 191.9,530.0 195.0,530.0 195.5,530.0 195.5,524.2 195.5,509.0 196.8,509.0 199.0,509.0 199.0,502.0 202.2,502.0 202.2,499.5 212.0,499.5 212.0,498.0 221.3,498.0 221.3,496.7 229.0,496.7 229.0,492.8 235.0,492.8 235.0,488.0 235.0,484.0 241.6,484.0 241.6,480.7 247.2,480.7 254.0,480.7 254.0,477.0 254.0,475.3 258.3,475.3 258.3,473.0 263.6,473.0 275.0,473.0 275.0,472.0 284.8,472.0 284.8,471.2 292.0,471.2 292.0,470.0 292.0,466.9 302.7,466.9 310.0,466.9 310.0,464.0 310.0,455.0 314.0,455.0 314.0,439.9 316.0,439.9 318.0,439.9 318.0,434.0 318.0,432.6 323.1,432.6 329.0,432.6 329.0,430.0 329.0,424.0 332.0,424.0 332.0,419.0 335.0,419.0 338.2,419.0 338.2,417.4 338.2,413.0 344.0,413.0 344.0,406.8 346.4,406.8 346.4,400.0 350.0,400.0 354.3,400.0 354.3,398.3 354.3,394.0 361.0,394.0 361.0,392.6 366.8,392.6 374.0,392.6 374.0,391.0 374.0,387.1 378.4,387.1 382.0,387.1 382.0,383.0 394.7,383.0 394.7,378.9 394.7,376.0 399.0,376.0 399.0,372.8 405.9,372.8 405.9,370.0 408.0,370.0 412.2,370.0 412.2,366.4 412.2,360.4 418.9,360.4 418.9,354.0 424.0,354.0 424.0,350.9 429.0,350.9 434.3,350.9 434.3,346.1 434.3,345.0 445.0,345.0 451.1,345.0 451.1,339.3 456.7,339.3 456.7,336.6 462.0,336.6 462.0,332.0 462.0,328.4 466.2,328.4 475.1,328.4 475.1,325.0 475.1,324.0 484.0,324.0 484.0,321.5 488.9,321.5 505.0,321.5 505.0,320.0 509.2,320.0 509.2,315.1 516.4,315.1 516.4,311.4 524.0,311.4 524.0,309.1 533.0,309.1 533.0,305.0 536.3,305.0 536.3,300.0 539.0,300.0 539.0,294.0 539.0,288.0 543.8,288.0 543.8,283.4 547.7,283.4 552.0,283.4 552.0,281.0 552.0,273.0 556.0,273.0 556.0,269.4 564.3,269.4 573.0,269.4 573.0,268.0 573.0,268.0 573.0,258.0 573.0,253.0 578.0,253.0 578.0,247.0 582.0,247.0 588.7,247.0 588.7,243.2 594.0,243.2 594.0,241.0 599.1,241.0 599.1,234.8 604.6,234.8 604.6,228.8 606.1,228.8 606.1,224.5 606.1,220.0 610.0,220.0 610.0,217.6 615.3,217.6 622.0,217.6 622.0,209.3 622.0,200.9 624.4,200.9 628.5,200.9 628.5,196.6 630.1,196.6 630.1,189.6 634.2,189.6 634.2,186.8 640.0,186.8 640.0,180.0 642.6,180.0 642.6,176.4 642.6,170.2 647.4,170.2 654.6,170.2 654.6,164.5 654.6,158.3 660.1,158.3 662.7,158.3 662.7,151.3 667.0,151.3 667.0,144.9 667.0,140.0 670.0,140.0 670.0,137.2 675.0,137.2 675.0,130.5 683.1,130.5 685.6,130.5 685.6,125.0 685.6,119.4 690.6,119.4 696.1,119.4 696.1,115.7 696.1,107.7 698.4,107.7 700.0,107.7 700.0,100.0 700.0,97.2 706.7,97.2 706.7,91.6 710.1,91.6 710.1,87.2 712.5,87.2 712.5,80.1 715.4,80.1 725.6,80.1 725.6,77.2 730.0,77.2 730.0,70.0 736.2,70.0 736.2,65.4 740.3,65.4 740.3,58.1 740.3,55.7 743.6,55.7 743.6,53.0 748.3,53.0 754.2,53.0 754.2,45.3 760.0,45.3 760.0,38.0" fill="none" stroke="#dcb4e6" stroke-width="2" stroke-linejoin="miter"/>
<path d="M84.0,714.0 84.7,714.0 84.7,709.3 84.7,698.3 85.5,698.3 85.5,691.3 86.6,691.3 86.6,680.0 87.0,680.0 87.8,680.0 87.8,668.0 89.5,668.0 89.5,657.1 89.5,647.6 90.1,647.6 91.0,647.6 91.0,640.0 91.0,632.2 93.0,632.2 93.0,623.3 93.9,623.3 95.4,623.3 95.4,613.0 95.4,600.0 96.0,600.0 96.0,589.9 97.6,589.9 97.6,584.7 99.4,584.7 101.4,584.7 101.4,577.2 101.4,571.7 102.2,571.7 102.2,560.0 103.0,560.0 105.5,560.0 105.5,551.0 107.1,551.0 107.1,545.3 110.0,545.3 110.0,540.0 110.0,527.3 110.9,527.3 110.9,524.0 112.0,524.0 112.0,519.0 120.0,519.0 120.0,509.4 124.0,509.4 129.0,509.4 129.0,507.0 129.0,500.3 132.2,500.3 132.2,490.0 133.0,490.0 133.0,480.4 137.0,480.4 137.0,472.0 140.0,472.0 140.0,464.4 143.3,464.4 146.5,464.4 146.5,462.1 148.0,462.1 148.0,451.0 148.0,444.5 148.0,444.5 148.0,436.5 148.0,436.5 148.0,424.3 148.0,424.3 148.0,424.3 148.0,406.0 151.0,406.0 151.0,400.8 154.2,400.8 154.2,391.9 154.2,384.1 157.2,384.1 157.2,380.0 160.0,380.0 160.0,369.9 162.4,369.9 162.4,364.4 165.2,364.4 167.3,364.4 167.3,355.1 167.3,349.0 169.0,349.0 169.0,341.2 170.3,341.2 170.3,335.3 174.8,335.3 174.8,332.0 178.0,332.0 179.8,332.0 179.8,327.5 179.8,312.0 183.0,312.0 187.2,312.0 187.2,306.4 191.6,306.4 191.6,300.3 197.0,300.3 197.0,292.0 200.6,292.0 200.6,284.8 202.4,284.8 202.4,276.7 202.4,271.9 209.3,271.9 214.0,271.9 214.0,264.0 218.5,264.0 218.5,255.2 223.5,255.2 223.5,250.2 227.8,250.2 227.8,246.0 227.8,241.9 229.9,241.9 229.9,239.0 233.6,239.0 237.0,239.0 237.0,231.0 237.0,224.3 241.1,224.3 241.1,215.0 245.0,215.0 245.0,211.3 247.5,211.3 250.2,211.3 250.2,204.4 250.2,196.0 254.0,196.0 257.2,196.0 257.2,192.3 267.0,192.3 267.0,187.0 272.3,187.0 272.3,182.2 272.3,179.0 275.0,179.0 275.0,174.4 278.3,174.4 286.0,174.4 286.0,170.0 290.5,170.0 290.5,165.3 297.0,165.3 297.0,164.0 306.6,164.0 306.6,159.6 306.6,157.0 310.0,157.0 310.0,151.3 312.6,151.3 312.6,147.0 318.0,147.0 318.0,146.3 327.1,146.3 327.1,145.8 337.9,145.8 344.0,145.8 344.0,145.0 344.0,143.9 353.9,143.9 365.0,143.9 365.0,142.0 375.5,142.0 375.5,140.3 382.0,140.3 382.0,136.0 388.0,136.0 388.0,134.4 388.0,128.0 395.0,128.0 397.2,128.0 397.2,115.7 403.0,115.7 403.0,113.0 411.5,113.0 411.5,111.9 416.2,111.9 416.2,110.4 416.2,108.0 424.0,108.0 424.0,104.2 431.2,104.2 431.2,100.0 440.0,100.0 440.0,97.8 452.7,97.8 452.7,95.8 455.7,95.8 455.7,94.7 465.8,94.7 465.8,93.8 473.1,93.8 473.1,92.0 480.0,92.0 489.9,92.0 489.9,90.3 489.9,89.0 494.0,89.0 494.0,87.4 498.9,87.4 498.9,86.0 509.0,86.0 509.0,85.0 520.7,85.0 531.0,85.0 531.0,84.0 537.1,84.0 537.1,82.8 537.1,82.4 550.1,82.4 560.2,82.4 560.2,81.5 570.0,81.5 570.0,81.0 574.7,81.0 574.7,78.8 574.7,75.0 580.0,75.0 583.8,75.0 583.8,72.2 595.0,72.2 595.0,71.0 595.0,69.7 604.7,69.7 611.8,69.7 611.8,67.7 611.8,66.0 620.0,66.0 626.0,66.0 626.0,65.2 626.0,63.2 632.0,63.2 632.0,60.6 641.7,60.6 641.7,57.9 646.9,57.9 657.4,57.9 657.4,57.3 670.9,57.3 670.9,56.5 670.9,55.0 680.0,55.0 684.2,55.0 684.2,53.8 697.0,53.8 697.0,51.8 710.1,51.8 710.1,49.1 710.1,47.5 715.8,47.5 720.0,47.5 720.0,46.0 720.0,45.3 732.5,45.3 732.5,43.9 741.8,43.9 741.8,42.6 749.7,42.6 756.8,42.6 756.8,40.6 756.8,38.0 760.0,38.0" fill="none" stroke="#3a6878" stroke-width="2.2" stroke-linejoin="miter"/>
<path d="M84.0,714.0 86.3,714.0 86.3,706.2 89.6,706.2 89.6,701.6 89.6,695.0 92.0,695.0 92.0,685.7 95.3,685.7 95.3,680.1 100.0,680.1 100.0,675.0 102.0,675.0 106.3,675.0 106.3,666.3 110.6,666.3 110.6,661.5 110.6,655.0 115.0,655.0 115.0,652.6 121.4,652.6 127.1,652.6 127.1,643.6 128.6,643.6 128.6,638.3 128.6,632.0 132.0,632.0 132.0,624.4 135.6,624.4 135.6,620.5 141.1,620.5 145.4,620.5 145.4,614.4 150.0,614.4 150.0,610.0 150.0,602.9 155.0,602.9 155.0,600.9 158.6,600.9 167.3,600.9 167.3,594.7 167.3,590.0 175.0,590.0 175.0,587.9 181.3,587.9 190.1,587.9 190.1,582.3 193.2,582.3 193.2,576.2 200.0,576.2 200.0,570.0 200.0,566.8 206.3,566.8 216.9,566.8 216.9,564.8 216.9,560.6 219.8,560.6 227.2,560.6 227.2,557.2 230.0,557.2 230.0,548.0 241.6,548.0 241.6,541.8 247.7,541.8 247.7,537.3 247.7,534.7 251.6,534.7 257.5,534.7 257.5,531.9 257.5,525.0 260.0,525.0 267.1,525.0 267.1,521.1 269.3,521.1 269.3,516.2 274.2,516.2 274.2,510.7 274.2,508.5 277.7,508.5 282.1,508.5 282.1,503.5 290.0,503.5 290.0,500.0 290.0,494.3 293.8,494.3 293.8,490.4 301.8,490.4 309.2,490.4 309.2,482.7 314.4,482.7 314.4,480.7 316.9,480.7 316.9,476.2 320.0,476.2 320.0,470.0 320.0,467.6 326.3,467.6 332.1,467.6 332.1,459.0 332.1,454.4 339.5,454.4 339.5,451.9 342.6,451.9 342.6,444.3 344.2,444.3 350.0,444.3 350.0,440.0 350.0,431.8 352.3,431.8 352.3,426.0 354.7,426.0 360.2,426.0 360.2,423.2 368.6,423.2 368.6,420.4 372.2,420.4 372.2,411.8 380.0,411.8 380.0,410.0 380.0,405.6 386.4,405.6 386.4,398.8 391.4,398.8 391.4,394.0 394.8,394.0 394.8,389.8 399.4,389.8 405.5,389.8 405.5,384.2 405.5,380.0 410.0,380.0 412.0,380.0 412.0,378.0 412.0,374.3 414.6,374.3 416.4,374.3 416.4,367.4 424.0,367.4 424.0,360.0 433.0,360.0 433.0,356.5 440.0,356.5 440.0,350.0 440.0,343.0 442.2,343.0 442.2,338.0 449.1,338.0 449.1,332.8 456.5,332.8 456.5,329.8 461.0,329.8 461.0,327.3 467.2,327.3 467.2,320.0 470.0,320.0 474.8,320.0 474.8,316.5 474.8,310.1 481.8,310.1 487.4,310.1 487.4,303.7 487.4,298.9 491.1,298.9 496.9,298.9 496.9,293.1 500.0,293.1 500.0,290.0 500.0,284.4 507.0,284.4 507.0,279.3 509.0,279.3 509.0,273.6 515.7,273.6 515.7,268.3 523.4,268.3 523.4,263.1 526.9,263.1 526.9,260.0 530.0,260.0 532.8,260.0 532.8,252.5 532.8,250.8 540.6,250.8 545.2,250.8 545.2,243.4 545.2,237.3 553.7,237.3 557.6,237.3 557.6,235.2 560.0,235.2 560.0,230.0 563.8,230.0 563.8,224.6 563.8,220.1 566.9,220.1 566.9,214.3 571.1,214.3 577.4,214.3 577.4,206.3 577.4,203.8 583.1,203.8 590.0,203.8 590.0,200.0 593.5,200.0 593.5,195.1 600.2,195.1 600.2,188.7 603.1,188.7 603.1,186.0 603.1,178.8 607.1,178.8 614.3,178.8 614.3,172.9 620.0,172.9 620.0,170.0 625.1,170.0 625.1,160.9 625.1,155.5 632.4,155.5 632.4,151.3 637.0,151.3 639.9,151.3 639.9,145.6 639.9,142.5 643.9,142.5 650.0,142.5 650.0,140.0 650.0,132.2 655.5,132.2 655.5,129.1 662.8,129.1 664.7,129.1 664.7,123.5 668.6,123.5 668.6,121.6 668.6,114.1 672.3,114.1 672.3,110.0 680.0,110.0 683.2,110.0 683.2,107.4 686.4,107.4 686.4,102.9 690.5,102.9 690.5,99.9 699.7,99.9 699.7,94.3 707.5,94.3 707.5,91.6 710.0,91.6 710.0,85.0 713.3,85.0 713.3,80.3 718.0,80.3 718.0,77.9 718.0,74.6 726.9,74.6 730.6,74.6 730.6,69.6 730.6,64.8 737.8,64.8 737.8,58.0 740.0,58.0 746.6,58.0 746.6,49.5 753.9,49.5 753.9,44.8 756.6,44.8 756.6,41.8 756.6,38.0 760.0,38.0" fill="none" stroke="#d2efc2" stroke-width="2" stroke-linejoin="miter"/>
<path d="M84.0,714.0 94.4,714.0 94.4,714.0 105.5,714.0 105.5,714.0 105.5,714.0 112.0,714.0 112.0,705.0 112.0,705.0 113.7,705.0 113.7,701.3 119.0,701.3 119.0,690.0 119.0,684.0 123.3,684.0 128.0,684.0 128.0,681.0 128.0,671.6 130.3,671.6 133.0,671.6 133.0,668.0 133.0,667.0 139.8,667.0 139.8,666.0 150.0,666.0 150.0,665.6 158.7,665.6 158.7,665.2 171.7,665.2 171.7,665.0 178.0,665.0 178.0,659.9 181.6,659.9 181.6,657.8 186.6,657.8 191.0,657.8 191.0,651.0 191.0,651.0 201.6,651.0 201.6,651.0 211.0,651.0 211.0,651.0 211.0,642.8 211.0,642.8 211.0,633.0 220.4,633.0 220.4,633.0 220.4,633.0 229.0,633.0 229.0,624.4 229.0,624.4 229.0,615.0 229.0,615.0 233.0,615.0 233.0,611.0 244.3,611.0 244.3,610.4 244.3,610.0 251.0,610.0 251.0,605.0 251.0,605.0 260.0,605.0 260.0,604.0 260.0,595.9 263.7,595.9 266.0,595.9 266.0,589.0 266.0,582.2 267.3,582.2 267.3,575.0 271.0,575.0 271.0,567.7 275.4,567.7 277.6,567.7 277.6,562.0 277.6,558.0 280.0,558.0 280.0,554.9 285.7,554.9 285.7,550.0 291.0,550.0 295.6,550.0 295.6,545.3 301.0,545.3 301.0,543.2 307.5,543.2 307.5,536.8 307.5,533.0 310.0,533.0 313.1,533.0 313.1,529.9 316.0,529.9 316.0,528.1 316.0,522.5 320.8,522.5 330.0,522.5 330.0,518.0 330.0,512.6 334.6,512.6 334.6,509.8 345.8,509.8 345.8,507.0 350.0,507.0 350.0,504.9 363.3,504.9 363.3,504.0 372.0,504.0 373.5,504.0 373.5,496.3 375.0,496.3 375.0,490.0 378.5,490.0 378.5,479.9 378.5,473.6 383.8,473.6 387.0,473.6 387.0,468.0 389.7,468.0 389.7,459.6 392.0,459.6 392.0,451.0 393.1,451.0 393.1,442.9 393.8,442.9 393.8,432.8 393.8,428.0 395.0,428.0 400.8,428.0 400.8,422.2 402.4,422.2 402.4,417.2 402.4,411.0 409.0,411.0 409.0,403.0 412.0,403.0 412.0,403.0 426.0,403.0 426.0,390.3 426.0,390.3 426.0,384.4 426.0,384.4 426.0,384.4 426.0,375.0 426.0,370.7 431.0,370.7 438.0,370.7 438.0,366.0 438.0,358.5 444.7,358.5 444.7,355.0 452.0,355.0 460.5,355.0 460.5,351.8 463.0,351.8 463.0,343.0 470.7,343.0 470.7,339.0 480.0,339.0 480.0,338.0 480.0,333.1 485.8,333.1 492.0,333.1 492.0,326.0 499.7,326.0 499.7,323.5 499.7,318.0 503.0,318.0 514.0,318.0 514.0,315.0 514.0,313.6 520.8,313.6 520.8,312.0 536.0,312.0 539.4,312.0 539.4,308.5 539.4,304.0 547.0,304.0 547.0,301.0 552.8,301.0 556.0,301.0 556.0,298.0 556.0,293.8 563.0,293.8 563.0,289.6 568.8,289.6 573.0,289.6 573.0,287.0 573.0,278.2 574.4,278.2 574.4,271.5 574.9,271.5 576.0,271.5 576.0,264.0 582.6,264.0 582.6,261.2 585.8,261.2 585.8,251.8 585.8,241.5 587.4,241.5 587.4,237.0 593.0,237.0 595.0,237.0 595.0,230.5 595.0,225.9 601.8,225.9 601.8,216.5 604.7,216.5 610.0,216.5 610.0,214.0 610.0,204.1 611.9,204.1 612.5,204.1 612.5,196.6 612.5,191.0 613.0,191.0 613.0,186.7 617.5,186.7 621.0,186.7 621.0,180.0 622.4,180.0 622.4,174.8 622.4,168.2 626.7,168.2 626.7,163.0 630.0,163.0 634.9,163.0 634.9,153.5 634.9,148.1 636.7,148.1 641.0,148.1 641.0,146.0 644.6,146.0 644.6,142.8 649.0,142.8 649.0,134.0 653.5,134.0 653.5,128.4 658.7,128.4 658.7,124.9 669.0,124.9 669.0,120.0 672.0,120.0 672.0,112.0 680.7,112.0 680.7,110.8 685.2,110.8 685.2,109.5 685.2,109.0 695.0,109.0 695.0,104.3 699.2,104.3 706.0,104.3 706.0,103.0 710.4,103.0 710.4,97.0 710.4,92.1 712.0,92.1 715.6,92.1 715.6,88.1 715.6,81.0 720.0,81.0 720.0,74.0 724.1,74.0 729.1,74.0 729.1,71.2 729.1,69.0 735.0,69.0 739.7,69.0 739.7,62.2 741.8,62.2 741.8,55.7 741.8,50.9 746.6,50.9 746.6,49.1 749.6,49.1 749.6,44.3 755.0,44.3 760.0,44.3 760.0,38.0" fill="none" stroke="#c84e88" stroke-width="2" stroke-linejoin="miter"/>
<path d="M84.0,714.0 84.0,708.5 84.3,708.5 84.3,701.7 84.4,701.7 84.4,689.2 84.8,689.2 85.0,689.2 85.0,680.0 85.6,680.0 85.6,669.3 86.3,669.3 86.3,664.6 86.8,664.6 86.8,653.1 87.0,653.1 87.0,640.0 87.0,625.8 88.0,625.8 88.0,620.8 88.9,620.8 88.9,610.5 89.3,610.5 90.0,610.5 90.0,600.0 91.2,600.0 91.2,587.0 92.4,587.0 92.4,575.5 93.3,575.5 93.3,564.5 94.3,564.5 94.3,558.3 94.3,550.2 95.4,550.2 96.0,550.2 96.0,545.0 96.0,525.0 96.6,525.0 97.7,525.0 97.7,511.5 99.7,511.5 99.7,502.9 100.6,502.9 100.6,494.4 101.2,494.4 101.2,488.2 102.0,488.2 102.0,484.1 102.0,476.2 102.8,476.2 102.8,470.0 104.0,470.0 104.4,470.0 104.4,462.5 104.4,446.2 105.6,446.2 105.6,440.0 107.0,440.0 109.3,440.0 109.3,436.7 109.3,428.6 110.4,428.6 110.4,414.0 111.6,414.0 111.6,407.2 112.9,407.2 115.0,407.2 115.0,400.0 115.0,388.3 117.9,388.3 117.9,385.0 119.2,385.0 121.5,385.0 121.5,377.0 121.5,372.2 123.4,372.2 123.4,363.0 126.0,363.0 126.0,353.1 128.3,353.1 130.8,353.1 130.8,347.4 133.0,347.4 133.0,344.1 133.0,337.9 135.5,337.9 137.9,337.9 137.9,328.7 140.0,328.7 140.0,320.0 143.7,320.0 143.7,311.7 146.0,311.7 146.0,308.0 146.0,303.3 147.4,303.3 150.0,303.3 150.0,290.0 151.0,290.0 151.0,286.5 154.7,286.5 154.7,274.9 157.5,274.9 157.5,267.6 157.5,264.0 160.0,264.0 160.0,260.2 167.1,260.2 167.1,250.0 170.0,250.0 170.0,247.6 174.3,247.6 176.0,247.6 176.0,240.0 176.0,232.0 180.0,232.0 186.0,232.0 186.0,226.0 186.9,226.0 186.9,212.8 190.0,212.8 190.0,206.0 194.0,206.0 194.0,196.0 200.0,196.0 200.0,190.0 206.0,190.0 206.0,184.0 210.0,184.0 210.0,179.4 214.0,179.4 214.0,174.0 214.0,172.0 220.0,172.0 220.0,162.9 223.4,162.9 223.4,158.0 226.0,158.0 230.0,158.0 230.0,156.0 234.0,156.0 234.0,150.0 244.5,150.0 244.5,148.2 252.0,148.2 252.0,146.0 254.8,146.0 254.8,141.0 260.0,141.0 260.0,132.0 260.0,130.4 266.7,130.4 275.0,130.4 275.0,128.0 280.8,128.0 280.8,126.6 293.9,126.6 293.9,125.0 293.9,123.0 297.0,123.0 303.7,123.0 303.7,118.4 310.0,118.4 310.0,114.0 310.0,108.7 316.2,108.7 316.2,104.0 324.0,104.0 331.6,104.0 331.6,101.8 331.6,100.0 339.0,100.0 346.2,100.0 346.2,95.9 351.8,95.9 351.8,91.5 354.0,91.5 354.0,89.0 360.4,89.0 360.4,84.2 360.4,81.0 369.0,81.0 369.0,76.4 378.5,76.4 378.5,74.0 382.0,74.0 392.3,74.0 392.3,72.7 399.0,72.7 399.0,70.0 408.6,70.0 408.6,67.7 418.2,67.7 418.2,65.4 418.2,64.0 424.0,64.0 424.0,63.0 439.7,63.0 439.7,62.0 445.0,62.0 449.2,62.0 449.2,60.6 449.2,57.0 458.0,57.0 458.0,56.0 463.6,56.0 463.6,53.0 477.0,53.0 477.0,51.1 482.1,51.1 482.1,49.0 488.0,49.0 501.0,49.0 501.0,48.5 501.0,47.9 513.7,47.9 524.0,47.9 524.0,47.7 524.0,47.4 532.0,47.4 543.8,47.4 543.8,47.1 547.7,47.1 547.7,46.7 547.7,46.0 556.0,46.0 566.3,46.0 566.3,44.4 566.3,42.8 571.0,42.8 582.7,42.8 582.7,42.5 582.7,42.0 594.0,42.0 594.0,41.6 606.6,41.6 606.6,41.3 621.6,41.3 621.6,40.8 626.9,40.8 641.9,40.8 641.9,40.6 641.9,40.2 645.8,40.2 645.8,40.0 650.0,40.0 653.8,40.0 653.8,39.6 653.8,39.3 664.6,39.3 680.4,39.3 680.4,38.6 690.5,38.6 690.5,38.4 690.5,38.0 700.0,38.0 702.9,38.0 702.9,38.0 717.2,38.0 717.2,38.0 717.2,38.0 723.4,38.0 733.6,38.0 733.6,38.0 746.3,38.0 746.3,38.0 746.3,38.0 760.0,38.0" fill="none" stroke="#a4a4a4" stroke-width="2" stroke-linejoin="miter"/>
<path d="M84.0,714.0 84.0,706.0 85.0,706.0 85.0,700.0 86.0,700.0 86.0,694.4 88.4,694.4 88.4,690.0 92.0,690.0 92.0,684.5 94.1,684.5 97.0,684.5 97.0,680.0 97.0,673.0 102.0,673.0 102.4,673.0 102.4,665.8 103.3,665.8 103.3,653.2 104.0,653.2 104.0,642.0 106.9,642.0 106.9,639.5 114.8,639.5 114.8,632.6 114.8,627.0 117.0,627.0 117.0,624.9 124.2,624.9 124.2,621.0 129.0,621.0 130.9,621.0 130.9,614.1 130.9,609.0 135.0,609.0 135.0,606.1 140.6,606.1 143.0,606.1 143.0,601.0 143.0,589.1 143.0,589.1 143.0,576.0 143.0,576.0 146.2,576.0 146.2,574.1 156.0,574.1 156.0,572.0 158.7,572.0 158.7,560.8 158.7,552.0 161.0,552.0 161.0,544.5 167.5,544.5 167.5,540.0 170.0,540.0 170.0,534.0 178.0,534.0 178.0,526.4 181.3,526.4 181.3,524.0 186.0,524.0 186.0,513.2 188.3,513.2 188.3,504.5 190.2,504.5 190.2,502.0 193.0,502.0 201.0,502.0 201.0,496.0 202.8,496.0 202.8,485.0 202.8,477.0 204.0,477.0 204.0,476.3 210.2,476.3 218.0,476.3 218.0,474.0 219.0,474.0 219.0,464.3 219.0,454.3 220.1,454.3 220.1,449.0 221.0,449.0 221.0,441.1 224.5,441.1 224.5,438.2 228.3,438.2 231.1,438.2 231.1,434.4 236.0,434.4 236.0,428.0 236.0,422.5 237.3,422.5 238.0,422.5 238.0,413.0 238.0,408.0 242.8,408.0 246.0,408.0 246.0,406.0 246.0,406.0 254.0,406.0 260.0,406.0 260.0,400.0 265.8,400.0 265.8,397.8 265.8,392.4 272.2,392.4 276.9,392.4 276.9,388.0 276.9,386.0 283.0,386.0 283.0,383.6 287.7,383.6 294.3,383.6 294.3,380.4 294.3,377.0 300.0,377.0 300.0,367.7 304.2,367.7 304.2,357.9 307.7,357.9 310.0,357.9 310.0,355.0 312.9,355.0 312.9,349.9 312.9,344.9 319.5,344.9 319.5,338.5 321.3,338.5 327.0,338.5 327.0,335.0 327.0,328.0 331.9,328.0 339.0,328.0 339.0,325.3 344.0,325.3 344.0,321.0 344.0,318.5 350.6,318.5 360.3,318.5 360.3,316.4 360.3,315.0 364.0,315.0 364.0,312.5 368.2,312.5 370.1,312.5 370.1,307.9 375.0,307.9 375.0,298.0 379.5,298.0 379.5,292.0 379.5,286.2 381.2,286.2 381.2,284.0 387.0,284.0 387.0,278.4 388.3,278.4 395.0,278.4 395.0,273.0 395.0,268.1 406.5,268.1 406.5,264.0 409.0,264.0 409.0,259.3 410.3,259.3 412.8,259.3 412.8,249.5 412.8,241.3 416.7,241.3 416.7,237.0 418.0,237.0 418.0,232.4 421.3,232.4 425.7,232.4 425.7,229.9 425.7,217.0 432.0,217.0 432.0,213.1 437.5,213.1 437.5,210.1 442.6,210.1 442.6,206.0 448.8,206.0 452.0,206.0 452.0,202.0 457.5,202.0 457.5,200.3 457.5,195.8 466.6,195.8 472.0,195.8 472.0,191.0 472.0,187.8 478.6,187.8 482.8,187.8 482.8,185.3 494.0,185.3 494.0,183.0 494.0,180.1 498.6,180.1 505.9,180.1 505.9,179.1 517.0,179.1 517.0,177.0 522.0,177.0 522.0,171.5 522.0,167.3 525.0,167.3 530.0,167.3 530.0,163.7 530.0,157.0 534.0,157.0 534.0,152.3 537.2,152.3 545.8,152.3 545.8,149.4 545.8,143.0 553.0,143.0 553.0,136.7 556.6,136.7 565.2,136.7 565.2,134.8 565.2,132.0 573.0,132.0 573.0,130.7 581.7,130.7 581.7,129.0 593.0,129.0 594.8,129.0 594.8,121.4 597.6,121.4 597.6,115.2 597.6,109.4 600.2,109.4 600.2,103.0 604.0,103.0 604.0,100.2 612.6,100.2 612.6,95.0 621.0,95.0 627.2,95.0 627.2,86.0 630.0,86.0 630.0,80.0 630.0,77.7 633.9,77.7 638.0,77.7 638.0,72.0 638.0,69.5 644.9,69.5 655.3,69.5 655.3,67.1 658.0,67.1 658.0,65.0 658.0,62.8 665.2,62.8 673.3,62.8 673.3,60.3 678.0,60.3 678.0,58.0 685.6,58.0 685.6,55.4 695.0,55.4 695.0,54.0 708.3,54.0 708.3,53.0 712.0,53.0 712.0,52.0 712.0,49.9 718.6,49.9 723.5,49.9 723.5,47.5 723.5,46.0 735.0,46.0 745.0,46.0 745.0,42.1 745.0,39.2 755.5,39.2 760.0,39.2 760.0,38.0" fill="none" stroke="#1c1c1c" stroke-width="2.6" stroke-linejoin="miter"/>
<path d="M84.0,714.0 84.0,711.9 91.0,711.9 98.0,711.9 98.0,706.0 98.0,706.0 106.6,706.0 112.4,706.0 112.4,706.0 124.0,706.0 124.0,706.0 126.0,706.0 126.0,698.0 126.0,693.4 135.5,693.4 135.5,690.0 140.0,690.0 147.6,690.0 147.6,687.1 149.6,687.1 149.6,684.6 149.6,677.0 155.0,677.0 155.0,669.9 161.7,669.9 168.2,669.9 168.2,667.4 168.2,660.0 170.0,660.0 173.6,660.0 173.6,656.0 176.4,656.0 176.4,651.3 176.4,645.0 185.0,645.0 191.3,645.0 191.3,639.5 193.5,639.5 193.5,633.9 193.5,628.0 200.0,628.0 200.0,623.6 202.5,623.6 202.5,617.9 206.4,617.9 206.4,612.8 208.8,612.8 215.0,612.8 215.0,606.0 215.0,605.5 222.9,605.5 229.0,605.5 229.0,605.0 229.0,599.0 229.0,599.0 239.0,599.0 239.0,597.7 244.6,597.7 244.6,596.9 244.6,596.0 255.0,596.0 255.0,588.0 258.0,588.0 264.9,588.0 264.9,585.5 275.0,585.5 275.0,580.0 275.0,576.6 282.6,576.6 286.7,576.6 286.7,570.6 295.0,570.6 295.0,566.0 300.7,566.0 300.7,562.2 307.3,562.2 307.3,558.0 310.0,558.0 310.0,555.0 310.0,547.1 315.9,547.1 321.9,547.1 321.9,544.7 327.0,544.7 327.0,541.0 334.5,541.0 334.5,538.8 334.5,535.9 343.0,535.9 343.0,533.0 353.0,533.0 353.0,530.5 362.3,530.5 371.4,530.5 371.4,528.0 376.6,528.0 376.6,525.7 376.6,521.0 384.0,521.0 384.0,520.3 390.4,520.3 400.8,520.3 400.8,519.9 412.4,519.9 412.4,519.0 412.4,518.0 423.0,518.0 423.0,510.2 426.8,510.2 426.8,501.4 430.0,501.4 430.0,499.0 432.0,499.0 432.0,494.6 434.8,494.6 438.0,494.6 438.0,490.0 442.1,490.0 442.1,486.1 442.1,481.9 450.0,481.9 450.0,479.0 452.7,479.0 457.0,479.0 457.0,474.0 459.6,474.0 459.6,466.2 463.2,466.2 463.2,463.2 468.0,463.2 468.0,455.9 469.1,455.9 469.1,450.3 469.1,441.9 471.9,441.9 474.0,441.9 474.0,434.0 477.2,434.0 477.2,429.5 481.3,429.5 481.3,427.1 484.8,427.1 484.8,422.5 484.8,417.0 492.0,417.0 497.1,417.0 497.1,412.9 497.1,405.9 503.9,405.9 503.9,401.5 506.9,401.5 506.9,397.0 514.0,397.0 523.4,397.0 523.4,394.6 533.0,394.6 533.0,391.0 533.0,390.1 543.0,390.1 553.0,390.1 553.0,389.0 553.0,384.7 554.5,384.7 556.0,384.7 556.0,377.0 556.0,368.8 559.2,368.8 559.2,363.3 563.3,363.3 563.3,355.3 567.2,355.3 573.8,355.3 573.8,351.2 578.4,351.2 578.4,345.5 578.4,338.4 579.7,338.4 579.7,333.0 582.0,333.0 586.4,333.0 586.4,327.1 588.9,327.1 588.9,321.4 588.9,317.3 592.8,317.3 592.8,309.6 594.8,309.6 594.8,303.0 598.0,303.0 606.7,303.0 606.7,300.2 612.7,300.2 612.7,295.6 612.7,292.9 617.3,292.9 625.3,292.9 625.3,291.0 625.3,287.0 630.0,287.0 630.0,284.3 635.1,284.3 635.1,280.2 647.6,280.2 654.0,280.2 654.0,276.3 654.0,274.0 657.0,274.0 657.0,270.4 663.2,270.4 663.2,265.9 669.5,265.9 669.5,257.8 671.9,257.8 676.0,257.8 676.0,254.0 676.0,241.5 677.4,241.5 677.4,234.4 677.7,234.4 679.0,234.4 679.0,225.0 681.0,225.0 681.0,214.5 684.1,214.5 684.1,205.1 684.1,202.0 689.0,202.0 689.0,196.7 696.8,196.7 696.8,191.5 704.1,191.5 709.0,191.5 709.0,189.0 709.0,180.7 711.3,180.7 711.3,174.1 712.1,174.1 713.0,174.1 713.0,165.7 713.0,156.0 715.0,156.0 715.0,146.9 717.0,146.9 717.8,146.9 717.8,132.6 720.5,132.6 720.5,127.0 723.0,127.0 723.0,123.0 724.8,123.0 724.8,118.8 727.8,118.8 727.8,112.6 727.8,103.0 729.0,103.0 730.5,103.0 730.5,94.6 730.5,84.4 731.6,84.4 731.6,75.0 735.0,75.0 738.1,75.0 738.1,68.3 738.1,65.2 743.9,65.2 748.7,65.2 748.7,61.4 748.7,50.0 751.3,50.0 751.3,41.9 756.8,41.9 760.0,41.9 760.0,38.0" fill="none" stroke="#c4e8e8" stroke-width="2" stroke-linejoin="miter"/>
<path d="M84.0,714.0 84.0,709.3 84.6,709.3 85.0,709.3 85.0,698.8 85.8,698.8 85.8,687.9 85.8,680.0 88.0,680.0 88.0,675.9 89.4,675.9 89.4,659.1 89.9,659.1 91.5,659.1 91.5,645.2 93.0,645.2 93.0,640.0 95.4,640.0 95.4,628.1 95.4,621.0 97.0,621.0 97.0,616.6 97.8,616.6 97.8,608.8 98.5,608.8 100.0,608.8 100.0,600.0 100.8,600.0 100.8,584.7 100.8,580.9 102.8,580.9 102.8,577.7 105.0,577.7 106.4,577.7 106.4,570.3 108.0,570.3 108.0,560.0 109.6,560.0 109.6,556.5 111.0,556.5 111.0,539.4 111.0,527.5 114.1,527.5 116.0,527.5 116.0,524.3 116.0,520.0 118.0,520.0 118.8,520.0 118.8,513.6 118.8,505.8 122.4,505.8 122.4,503.0 124.2,503.0 124.2,494.4 126.2,494.4 130.0,494.4 130.0,480.0 133.6,480.0 133.6,472.6 133.6,464.2 136.7,464.2 136.7,457.7 137.7,457.7 137.7,452.2 139.0,452.2 143.5,452.2 143.5,447.1 145.0,447.1 145.0,440.0 145.0,434.6 147.5,434.6 150.7,434.6 150.7,425.5 151.6,425.5 151.6,415.6 154.4,415.6 154.4,413.3 154.4,409.6 157.5,409.6 160.0,409.6 160.0,400.0 163.1,400.0 163.1,397.4 164.2,397.4 164.2,389.0 164.2,378.9 167.3,378.9 170.3,378.9 170.3,374.4 172.7,374.4 172.7,367.8 175.0,367.8 175.0,360.0 175.0,356.6 178.5,356.6 181.5,356.6 181.5,346.9 181.5,340.2 183.1,340.2 188.1,340.2 188.1,335.0 189.2,335.0 189.2,328.3 192.0,328.3 192.0,320.0 192.0,314.2 194.7,314.2 199.0,314.2 199.0,302.3 200.9,302.3 200.9,295.7 205.7,295.7 205.7,290.2 205.7,285.0 210.0,285.0 212.1,285.0 212.1,280.1 216.3,280.1 216.3,273.0 216.3,270.5 222.9,270.5 227.2,270.5 227.2,261.1 227.2,255.0 232.0,255.0 234.4,255.0 234.4,250.2 234.4,245.6 238.6,245.6 242.2,245.6 242.2,239.5 242.2,235.0 246.5,235.0 252.4,235.0 252.4,229.0 252.4,225.0 260.0,225.0 260.0,219.6 267.3,219.6 271.6,219.6 271.6,217.0 271.6,208.7 275.9,208.7 275.9,204.5 277.5,204.5 277.5,200.2 284.3,200.2 284.3,195.0 290.0,195.0 290.0,189.9 295.4,189.9 299.3,189.9 299.3,187.1 299.3,184.6 305.6,184.6 311.6,184.6 311.6,180.5 311.6,176.3 317.5,176.3 320.0,176.3 320.0,170.0 324.7,170.0 324.7,165.4 324.7,158.0 328.8,158.0 328.8,154.1 341.6,154.1 341.6,151.4 345.4,151.4 345.4,146.6 350.4,146.6 360.0,146.6 360.0,145.0 362.8,145.0 362.8,140.6 362.8,136.9 373.3,136.9 377.3,136.9 377.3,134.4 380.2,134.4 380.2,132.7 380.2,128.9 390.4,128.9 400.0,128.9 400.0,125.0 400.0,123.5 408.2,123.5 415.8,123.5 415.8,119.6 422.3,119.6 422.3,118.5 422.3,116.5 430.8,116.5 437.3,116.5 437.3,112.4 442.5,112.4 442.5,109.0 450.0,109.0 450.0,105.0 456.1,105.0 456.1,101.7 462.4,101.7 462.4,99.4 462.4,97.5 471.6,97.5 475.6,97.5 475.6,96.8 479.6,96.8 479.6,94.1 490.2,94.1 490.2,90.5 490.2,88.0 500.0,88.0 500.0,87.1 502.6,87.1 502.6,84.0 512.0,84.0 521.3,84.0 521.3,81.2 532.0,81.2 532.0,80.4 538.9,80.4 538.9,78.0 538.9,76.8 547.6,76.8 556.6,76.8 556.6,74.8 560.0,74.8 560.0,72.0 564.8,72.0 564.8,71.3 575.2,71.3 575.2,68.9 585.0,68.9 585.0,68.4 587.7,68.4 587.7,66.6 594.5,66.6 594.5,64.9 605.0,64.9 605.0,63.0 605.0,61.7 611.2,61.7 611.2,60.3 620.8,60.3 629.8,60.3 629.8,58.2 640.0,58.2 640.0,56.0 640.0,54.0 651.6,54.0 655.5,54.0 655.5,52.7 667.4,52.7 667.4,51.1 673.9,51.1 673.9,49.7 673.9,48.4 687.4,48.4 687.4,47.1 695.6,47.1 700.0,47.1 700.0,46.0 709.5,46.0 709.5,44.7 709.5,44.1 719.6,44.1 728.3,44.1 728.3,42.6 737.8,42.6 737.8,40.7 737.8,39.6 743.8,39.6 750.8,39.6 750.8,38.9 760.0,38.9 760.0,38.0" fill="none" stroke="#ffffff" stroke-width="1.6" stroke-linejoin="miter"/>
<path d="M84.0,714.0 84.0,699.1 84.8,699.1 84.8,695.1 86.0,695.1 86.0,689.1 88.5,689.1 90.0,689.1 90.0,680.0 90.0,673.3 93.2,673.3 93.2,667.4 96.2,667.4 97.7,667.4 97.7,657.4 97.7,646.4 99.2,646.4 99.2,640.0 100.0,640.0 103.2,640.0 103.2,634.6 104.9,634.6 104.9,624.7 107.9,624.7 107.9,619.2 111.1,619.2 111.1,613.3 111.1,608.4 112.8,608.4 112.8,600.0 115.0,600.0 117.2,600.0 117.2,590.8 117.2,585.8 119.4,585.8 124.0,585.8 124.0,577.7 124.0,570.0 128.0,570.0 133.0,570.0 133.0,560.2 133.0,554.3 136.5,554.3 136.5,548.0 138.0,548.0 138.0,539.2 141.0,539.2 144.0,539.2 144.0,532.0 148.0,532.0 148.0,524.0 149.4,524.0 149.4,519.0 154.2,519.0 154.2,516.7 159.0,516.7 159.0,507.0 159.0,502.9 165.4,502.9 165.4,495.4 167.6,495.4 167.6,490.0 169.0,490.0 169.0,482.7 170.9,482.7 174.0,482.7 174.0,472.0 177.5,472.0 177.5,468.2 182.0,468.2 182.0,464.0 186.1,464.0 186.1,462.4 195.0,462.4 195.0,460.0 195.0,450.1 195.7,450.1 195.7,435.3 196.5,435.3 196.5,428.0 197.0,428.0 197.0,421.0 199.0,421.0 203.2,421.0 203.2,417.1 208.0,417.1 208.0,413.0 214.1,413.0 214.1,408.2 214.1,404.0 218.0,404.0 218.5,404.0 218.5,393.3 218.5,383.0 220.0,383.0 233.6,383.0 233.6,382.3 242.0,382.3 242.0,381.0 242.0,381.0 242.0,370.0 244.6,370.0 244.6,364.3 244.6,355.7 246.6,355.7 248.0,355.7 248.0,346.0 248.0,342.2 250.1,342.2 250.1,340.6 257.4,340.6 257.4,338.0 266.0,338.0 266.0,335.2 268.5,335.2 268.5,330.4 274.8,330.4 279.7,330.4 279.7,324.1 279.7,315.9 284.9,315.9 284.9,312.0 288.0,312.0 288.0,303.5 294.7,303.5 297.0,303.5 297.0,298.7 297.0,289.7 301.7,289.7 305.1,289.7 305.1,287.5 305.1,284.0 310.0,284.0 310.0,282.3 314.0,282.3 320.8,282.3 320.8,277.4 320.8,273.0 327.0,273.0 327.0,269.5 336.9,269.5 336.9,265.6 340.4,265.6 347.0,265.6 347.0,264.0 354.3,264.0 354.3,260.5 354.3,256.4 361.3,256.4 369.4,256.4 369.4,249.4 369.4,248.0 372.0,248.0 372.0,242.7 378.1,242.7 378.1,240.0 386.8,240.0 386.8,237.0 395.0,237.0 395.4,237.0 395.4,223.9 395.4,218.9 396.9,218.9 399.0,218.9 399.0,208.8 401.0,208.8 401.0,205.0 408.5,205.0 408.5,201.9 408.5,195.8 413.2,195.8 415.2,195.8 415.2,188.4 415.2,185.0 423.0,185.0 423.0,178.9 427.6,178.9 439.1,178.9 439.1,175.9 439.1,171.0 443.0,171.0 443.0,168.9 446.9,168.9 446.9,164.7 452.2,164.7 457.0,164.7 457.0,157.0 457.0,150.5 459.9,150.5 463.9,150.5 463.9,145.8 469.0,145.8 469.0,143.0 469.0,140.3 472.9,140.3 472.9,138.1 482.2,138.1 482.2,137.0 497.0,137.0 497.0,130.2 501.5,130.2 503.4,130.2 503.4,116.8 503.4,114.2 505.0,114.2 505.0,103.8 507.9,103.8 509.0,103.8 509.0,95.0 514.1,95.0 514.1,93.2 514.1,92.0 526.0,92.0 526.0,92.0 529.6,92.0 545.5,92.0 545.5,92.0 553.0,92.0 553.0,92.0 553.0,82.9 553.0,82.9 553.0,82.9 553.0,76.0 553.0,74.5 563.3,74.5 563.3,73.2 569.4,73.2 569.4,71.9 579.7,71.9 579.7,70.3 584.7,70.3 584.7,69.1 588.1,69.1 600.0,69.1 600.0,68.0 605.5,68.0 605.5,65.7 605.5,63.9 610.7,63.9 610.7,62.4 623.1,62.4 629.4,62.4 629.4,60.6 640.7,60.6 640.7,60.1 640.7,59.5 644.2,59.5 656.3,59.5 656.3,58.4 669.0,58.4 669.0,57.0 669.0,55.0 680.0,55.0 680.0,53.0 689.0,53.0 696.4,53.0 696.4,51.4 706.7,51.4 706.7,49.9 714.2,49.9 714.2,47.6 725.7,47.6 725.7,46.3 725.7,45.5 728.1,45.5 728.1,44.4 736.8,44.4 736.8,42.2 743.0,42.2 752.1,42.2 752.1,40.0 760.0,40.0 760.0,38.0" fill="none" stroke="#9a98c8" stroke-width="2" stroke-linejoin="miter"/>
<path d="M84.0,714.0 84.0,705.2 85.8,705.2 90.0,705.2 90.0,700.0 94.6,700.0 94.6,692.5 94.6,685.0 98.0,685.0 101.8,685.0 101.8,677.2 108.0,677.2 108.0,670.0 108.0,667.0 111.6,667.0 111.6,659.0 116.1,659.0 116.1,655.0 120.0,655.0 125.7,655.0 125.7,649.7 125.7,642.9 130.5,642.9 130.5,640.0 135.0,640.0 135.0,634.7 140.1,634.7 144.9,634.7 144.9,630.4 150.4,630.4 150.4,625.1 155.0,625.1 155.0,620.0 160.9,620.0 160.9,616.3 164.0,616.3 164.0,610.6 164.0,607.6 167.4,607.6 180.0,607.6 180.0,600.0 180.0,594.6 185.2,594.6 194.4,594.6 194.4,588.8 194.4,585.3 197.6,585.3 197.6,580.0 205.0,580.0 207.7,580.0 207.7,574.3 214.4,574.3 214.4,571.3 214.4,565.3 220.5,565.3 222.4,565.3 222.4,559.9 222.4,555.0 230.0,555.0 232.0,555.0 232.0,543.7 232.9,543.7 232.9,539.9 232.9,531.7 234.1,531.7 235.4,531.7 235.4,527.5 235.4,514.6 236.6,514.6 236.6,501.4 240.4,501.4 241.8,501.4 241.8,498.4 241.8,490.0 246.0,490.0 246.0,487.1 247.1,487.1 247.1,472.0 249.3,472.0 254.0,472.0 254.0,468.0 256.2,468.0 256.2,465.8 259.7,465.8 259.7,462.1 265.9,462.1 265.9,455.8 277.1,455.8 277.1,450.8 283.0,450.8 283.0,446.0 283.0,442.7 291.3,442.7 291.3,440.5 297.9,440.5 305.1,440.5 305.1,439.3 310.0,439.3 310.0,437.0 310.0,433.9 311.0,433.9 313.9,433.9 313.9,421.0 313.9,413.1 316.5,413.1 316.5,405.0 319.9,405.0 321.2,405.0 321.2,398.5 324.0,398.5 324.0,389.0 324.0,387.6 334.0,387.6 340.7,387.6 340.7,387.2 340.7,386.0 353.0,386.0 363.7,386.0 363.7,384.4 375.0,384.4 375.0,383.0 375.0,371.2 376.1,371.2 376.8,371.2 376.8,363.6 378.0,363.6 378.0,360.0 378.0,356.2 387.5,356.2 387.5,352.0 395.0,352.0 397.8,352.0 397.8,347.9 397.8,342.4 401.6,342.4 401.6,332.4 404.1,332.4 406.0,332.4 406.0,326.0 406.0,313.9 409.6,313.9 409.6,309.0 412.0,309.0 412.0,306.6 419.1,306.6 426.1,306.6 426.1,304.5 432.0,304.5 432.0,301.0 432.0,297.6 443.8,297.6 449.0,297.6 449.0,295.0 449.0,293.4 452.9,293.4 463.0,293.4 463.0,292.0 471.2,292.0 471.2,289.9 471.2,284.4 475.2,284.4 480.0,284.4 480.0,281.0 480.0,271.9 484.2,271.9 486.0,271.9 486.0,264.0 494.0,264.0 494.0,264.0 498.8,264.0 498.8,260.3 498.8,252.1 503.0,252.1 503.0,248.0 509.0,248.0 509.0,245.6 517.2,245.6 517.2,239.7 524.0,239.7 532.9,239.7 532.9,236.0 532.9,231.0 536.0,231.0 545.1,231.0 545.1,226.1 552.2,226.1 552.2,220.7 552.2,218.3 557.1,218.3 560.0,218.3 560.0,210.0 563.3,210.0 563.3,200.9 571.7,200.9 571.7,199.1 571.7,190.4 574.8,190.4 574.8,188.3 577.3,188.3 585.3,188.3 585.3,182.8 590.0,182.8 590.0,180.0 590.0,176.2 592.8,176.2 599.2,176.2 599.2,173.8 599.2,168.5 601.2,168.5 610.8,168.5 610.8,161.3 616.6,161.3 616.6,154.6 616.6,150.0 620.0,150.0 625.9,150.0 625.9,147.3 629.7,147.3 629.7,145.1 629.7,141.2 635.6,141.2 635.6,137.0 641.2,137.0 643.7,137.0 643.7,127.8 650.0,127.8 650.0,120.0 653.2,120.0 653.2,117.9 653.2,111.7 657.2,111.7 657.2,104.9 661.3,104.9 661.3,100.3 666.8,100.3 673.6,100.3 673.6,98.9 680.0,98.9 680.0,95.0 685.5,95.0 685.5,90.4 692.6,90.4 692.6,85.2 694.8,85.2 694.8,79.7 699.9,79.7 699.9,75.7 699.9,73.9 704.2,73.9 704.2,70.0 710.0,70.0 718.2,70.0 718.2,63.9 721.7,63.9 721.7,59.0 721.7,57.2 729.3,57.2 731.5,57.2 731.5,52.4 731.5,50.0 740.0,50.0 740.0,44.8 745.8,44.8 745.8,42.8 752.5,42.8 752.5,38.0 760.0,38.0" fill="none" stroke="#86d68e" stroke-width="2" stroke-linejoin="miter"/>
<path d="M84.0,714.0 98.0,714.0 98.0,714.0 98.0,709.4 98.0,709.4 98.0,709.4 98.0,695.0 102.0,695.0 102.0,695.0 106.7,695.0 106.7,695.0 106.7,695.0 120.7,695.0 120.7,695.0 130.1,695.0 130.1,695.0 140.8,695.0 155.5,695.0 155.5,695.0 155.5,695.0 164.0,695.0 164.0,687.0 170.0,687.0 170.0,684.3 173.6,684.3 173.6,679.0 182.0,679.0 182.0,675.7 187.6,675.7 187.6,671.6 197.2,671.6 201.0,671.6 201.0,670.0 209.0,670.0 209.0,666.0 215.8,666.0 215.8,661.2 225.0,661.2 225.0,658.0 225.0,656.7 229.9,656.7 233.3,656.7 233.3,652.4 242.0,652.4 242.0,648.0 242.0,640.3 245.9,640.3 245.9,638.0 254.0,638.0 260.0,638.0 260.0,636.0 265.5,636.0 265.5,628.4 265.5,625.0 269.0,625.0 278.0,625.0 278.0,623.0 278.0,623.0 278.0,610.0 278.0,608.0 282.0,608.0 282.0,602.4 282.5,602.4 282.5,592.0 283.0,592.0 298.0,592.0 298.0,592.0 298.0,592.0 305.8,592.0 305.8,592.0 313.0,592.0 313.0,588.0 315.0,588.0 315.0,588.0 320.3,588.0 320.3,588.0 330.0,588.0 333.0,588.0 333.0,584.0 333.0,582.0 341.0,582.0 341.0,582.0 341.0,575.0 341.0,567.7 344.7,567.7 350.0,567.7 350.0,566.0 354.0,566.0 354.0,558.0 359.0,558.0 359.0,552.0 370.0,552.0 370.0,551.0 370.0,542.0 373.0,542.0 377.8,542.0 377.8,536.2 382.6,536.2 382.6,533.4 387.0,533.4 387.0,527.0 393.2,527.0 393.2,525.8 393.2,522.1 399.0,522.1 412.0,522.1 412.0,521.0 413.9,521.0 413.9,514.3 416.0,514.3 416.0,505.0 420.1,505.0 420.1,503.1 428.0,503.1 428.0,499.4 428.0,497.0 437.0,497.0 437.0,492.7 439.7,492.7 449.0,492.7 449.0,490.0 453.0,490.0 453.0,481.0 453.0,476.4 458.3,476.4 458.3,473.0 461.0,473.0 462.2,473.0 462.2,458.0 463.5,458.0 463.5,454.9 465.0,454.9 465.0,449.0 465.0,443.9 469.9,443.9 469.9,439.0 473.0,439.0 477.0,439.0 477.0,433.0 479.8,433.0 479.8,420.5 485.0,420.5 485.0,417.0 485.0,414.6 490.2,414.6 496.5,414.6 496.5,410.8 501.0,410.8 501.0,405.0 501.0,399.3 505.7,399.3 509.0,399.3 509.0,393.0 509.0,388.7 512.7,388.7 520.6,388.7 520.6,385.7 520.6,381.0 525.0,381.0 528.5,381.0 528.5,378.9 533.0,378.9 533.0,369.0 538.4,369.0 538.4,365.4 541.2,365.4 541.2,360.2 549.0,360.2 549.0,353.0 549.0,351.3 558.1,351.3 568.8,351.3 568.8,349.7 568.8,349.0 573.0,349.0 573.0,339.9 579.5,339.9 579.5,337.0 581.0,337.0 584.2,337.0 584.2,332.4 584.2,321.0 589.0,321.0 590.3,321.0 590.3,305.3 593.0,305.3 593.0,300.0 598.6,300.0 598.6,293.1 598.6,284.0 600.6,284.0 605.0,284.0 605.0,280.0 605.8,280.0 605.8,270.1 605.8,257.5 607.4,257.5 608.2,257.5 608.2,249.9 608.2,240.0 609.0,240.0 609.0,234.3 612.9,234.3 621.0,234.3 621.0,231.0 621.0,225.5 622.4,225.5 627.7,225.5 627.7,217.5 627.7,211.0 632.0,211.0 632.0,203.9 639.1,203.9 641.0,203.9 641.0,197.0 641.0,188.4 644.7,188.4 644.7,185.0 649.0,185.0 649.0,181.5 655.0,181.5 656.5,181.5 656.5,175.1 656.5,171.0 661.0,171.0 664.8,171.0 664.8,165.7 664.8,151.0 666.0,151.0 667.3,151.0 667.3,142.4 667.3,137.0 669.0,137.0 669.0,132.7 674.5,132.7 674.5,129.0 678.0,129.0 678.0,125.9 684.2,125.9 695.0,125.9 695.0,123.0 695.0,118.4 703.3,118.4 703.3,112.0 706.0,112.0 712.4,112.0 712.4,107.7 712.4,102.3 715.9,102.3 715.9,100.0 720.0,100.0 729.3,100.0 729.3,97.9 729.3,95.0 735.0,95.0 741.0,95.0 741.0,91.6 741.0,86.0 746.0,86.0 746.0,86.0 746.0,77.8 746.0,64.0 746.0,64.0 755.0,64.0 755.0,64.0 755.0,56.2 755.5,56.2 756.0,56.2 756.0,44.0 756.0,38.0 760.0,38.0" fill="none" stroke="#555555" stroke-width="2.2" stroke-linejoin="miter"/>
<path d="M84.0,714.0 84.2,714.0 84.2,703.1 84.2,693.0 84.3,693.0 84.9,693.0 84.9,685.8 84.9,680.0 85.0,680.0 85.3,680.0 85.3,666.9 86.0,666.9 86.0,655.5 86.8,655.5 86.8,646.6 86.8,640.0 87.0,640.0 87.0,635.8 87.6,635.8 88.7,635.8 88.7,627.0 89.1,627.0 89.1,611.5 89.1,600.0 90.0,600.0 90.6,600.0 90.6,597.2 90.6,584.4 92.1,584.4 92.5,584.4 92.5,574.0 94.0,574.0 94.0,560.0 94.6,560.0 94.6,550.8 94.6,536.9 95.8,536.9 95.8,527.2 97.3,527.2 97.3,520.0 99.0,520.0 99.0,516.5 100.7,516.5 100.7,511.2 101.6,511.2 102.4,511.2 102.4,498.4 104.0,498.4 104.0,490.0 105.2,490.0 105.2,481.2 106.3,481.2 106.3,474.9 107.6,474.9 107.6,463.7 108.0,463.7 108.0,450.0 109.6,450.0 109.6,442.9 109.6,433.0 110.9,433.0 112.3,433.0 112.3,426.5 112.3,420.8 113.9,420.8 113.9,410.0 115.0,410.0 117.1,410.0 117.1,404.0 119.2,404.0 119.2,398.0 120.3,398.0 120.3,387.8 121.5,387.8 121.5,380.6 121.5,370.0 124.0,370.0 126.1,370.0 126.1,359.5 126.1,351.5 129.0,351.5 132.5,351.5 132.5,347.8 133.7,347.8 133.7,334.6 135.0,334.6 135.0,330.0 139.0,330.0 139.0,325.9 139.0,319.3 140.9,319.3 144.0,319.3 144.0,310.7 144.0,304.5 146.9,304.5 146.9,297.1 148.4,297.1 148.4,290.0 150.0,290.0 151.6,290.0 151.6,282.9 156.1,282.9 156.1,279.5 156.1,270.6 160.2,270.6 160.2,258.6 163.9,258.6 163.9,255.0 165.0,255.0 165.0,252.1 167.9,252.1 170.0,252.1 170.0,246.2 170.0,236.2 175.6,236.2 175.6,233.0 179.5,233.0 179.5,225.0 185.0,225.0 187.6,225.0 187.6,222.9 193.3,222.9 193.3,217.2 196.2,217.2 196.2,208.7 202.1,208.7 202.1,201.1 208.3,201.1 208.3,199.4 210.0,199.4 210.0,195.0 210.0,189.9 216.1,189.9 221.4,189.9 221.4,182.8 221.4,177.9 229.9,177.9 235.2,177.9 235.2,176.5 235.2,169.4 237.7,169.4 237.7,165.0 240.0,165.0 244.5,165.0 244.5,161.9 252.1,161.9 252.1,158.5 258.2,158.5 258.2,153.5 260.0,153.5 260.0,149.6 260.0,144.3 268.2,144.3 270.0,144.3 270.0,140.0 277.5,140.0 277.5,136.0 288.0,136.0 288.0,131.7 288.0,127.3 291.1,127.3 291.1,122.7 293.5,122.7 293.5,120.3 302.0,120.3 310.0,120.3 310.0,118.0 319.8,118.0 319.8,117.2 330.0,117.2 330.0,114.3 330.0,111.4 333.0,111.4 340.8,111.4 340.8,108.3 350.2,108.3 350.2,105.5 352.6,105.5 352.6,104.9 360.0,104.9 360.0,102.0 373.3,102.0 373.3,99.6 376.4,99.6 376.4,97.0 390.8,97.0 390.8,94.9 395.7,94.9 395.7,93.1 404.0,93.1 404.0,91.2 410.0,91.2 410.0,90.0 410.0,88.8 415.8,88.8 420.1,88.8 420.1,86.6 420.1,85.4 437.6,85.4 437.6,84.1 447.6,84.1 455.5,84.1 455.5,81.9 460.0,81.9 460.0,80.0 460.0,79.0 466.8,79.0 466.8,78.3 472.3,78.3 472.3,76.8 485.1,76.8 485.1,74.5 495.0,74.5 504.9,74.5 504.9,72.8 504.9,70.2 510.2,70.2 510.2,68.0 520.0,68.0 520.0,66.5 533.4,66.5 533.4,65.3 542.6,65.3 555.4,65.3 555.4,64.4 563.6,64.4 563.6,63.3 567.2,63.3 567.2,61.6 573.7,61.6 573.7,59.8 580.8,59.8 580.8,59.0 580.8,57.6 588.7,57.6 600.0,57.6 600.0,56.0 600.0,55.2 603.5,55.2 615.9,55.2 615.9,54.0 626.2,54.0 626.2,52.6 626.2,51.3 638.7,51.3 638.7,49.8 647.3,49.8 652.8,49.8 652.8,48.5 652.8,47.4 657.1,47.4 657.1,46.9 669.4,46.9 669.4,46.0 680.0,46.0 680.0,45.1 683.6,45.1 683.6,44.4 687.5,44.4 687.5,43.5 699.3,43.5 712.7,43.5 712.7,42.4 712.7,41.2 726.1,41.2 729.1,41.2 729.1,40.4 729.1,39.3 741.5,39.3 741.5,38.7 753.0,38.7 760.0,38.7 760.0,38.0" fill="none" stroke="#b4d2f0" stroke-width="2" stroke-linejoin="miter"/>
<path d="M84.0,714.0 84.0,703.3 85.4,703.3 85.4,695.0 86.0,695.0 86.0,689.4 87.7,689.4 89.0,689.4 89.0,675.0 90.4,675.0 90.4,667.9 91.7,667.9 91.7,664.1 93.0,664.1 93.0,650.0 94.4,650.0 94.4,642.7 94.4,632.8 95.6,632.8 97.4,632.8 97.4,629.4 97.4,620.0 98.0,620.0 99.6,620.0 99.6,604.9 101.1,604.9 101.1,601.4 101.1,594.7 104.0,594.7 105.0,594.7 105.0,585.0 106.7,585.0 106.7,574.3 106.7,569.7 108.1,569.7 108.1,560.0 110.0,560.0 112.0,560.0 112.0,548.4 112.0,540.7 114.1,540.7 116.0,540.7 116.0,532.0 117.5,532.0 117.5,522.9 117.5,515.0 118.0,515.0 123.0,515.0 123.0,510.6 127.0,510.6 127.0,509.0 127.0,498.0 129.0,498.0 132.0,498.0 132.0,490.8 132.0,481.0 135.0,481.0 138.1,481.0 138.1,474.0 143.8,474.0 143.8,470.5 148.0,470.5 148.0,468.0 148.0,462.9 152.1,462.9 159.0,462.9 159.0,460.0 162.7,460.0 162.7,457.1 169.0,457.1 169.0,455.0 178.0,455.0 178.0,451.0 178.0,438.4 178.0,438.4 178.0,428.0 178.0,428.0 178.0,422.3 187.9,422.3 187.9,419.0 191.0,419.0 192.0,419.0 192.0,408.7 192.0,404.0 193.0,404.0 197.0,404.0 197.0,396.0 197.0,395.5 209.1,395.5 209.1,394.0 218.0,394.0 218.0,394.0 218.0,383.0 218.0,376.7 222.2,376.7 227.9,376.7 227.9,374.4 233.0,374.4 233.0,370.0 235.2,370.0 235.2,364.1 235.2,355.1 236.0,355.1 238.0,355.1 238.0,349.0 241.1,349.0 241.1,345.2 246.0,345.2 246.0,339.0 249.6,339.0 249.6,333.7 254.0,333.7 254.0,324.0 256.4,324.0 256.4,319.1 256.4,315.0 260.0,315.0 260.0,313.0 264.5,313.0 272.6,313.0 272.6,308.3 272.6,300.0 280.5,300.0 283.0,300.0 283.0,298.0 283.0,293.1 288.0,293.1 292.5,293.1 292.5,287.7 300.0,287.7 300.0,281.0 303.5,281.0 303.5,275.3 303.5,269.3 306.4,269.3 310.0,269.3 310.0,264.0 312.3,264.0 312.3,254.7 315.4,254.7 315.4,244.2 315.4,241.9 319.1,241.9 322.7,241.9 322.7,233.1 322.7,231.0 327.0,231.0 327.0,226.6 328.7,226.6 332.9,226.6 332.9,219.7 332.9,213.7 336.9,213.7 338.0,213.7 338.0,197.0 338.0,195.1 341.7,195.1 341.7,188.1 347.8,188.1 347.8,185.8 352.7,185.8 352.7,177.0 355.0,177.0 355.0,173.8 363.3,173.8 363.3,172.5 369.7,172.5 372.2,172.5 372.2,168.4 378.0,168.4 378.0,163.0 381.3,163.0 381.3,159.9 384.2,159.9 384.2,156.3 392.2,156.3 392.2,153.7 392.2,151.0 401.0,151.0 401.0,147.3 404.6,147.3 406.1,147.3 406.1,138.0 409.0,138.0 409.0,132.0 409.0,126.5 414.4,126.5 414.4,121.0 421.4,121.0 423.0,121.0 423.0,115.0 424.6,115.0 424.6,109.8 424.6,101.8 429.6,101.8 432.0,101.8 432.0,98.0 432.0,94.0 437.0,94.0 437.0,89.0 445.0,89.0 450.1,89.0 450.1,88.7 463.0,88.7 463.0,88.2 475.5,88.2 475.5,87.7 487.8,87.7 487.8,87.1 487.8,87.0 492.0,87.0 492.0,83.3 496.8,83.3 496.8,77.0 503.0,77.0 503.0,72.0 510.0,72.0 513.9,72.0 513.9,71.1 513.9,70.3 521.0,70.3 521.0,70.0 535.0,70.0 535.0,68.6 554.2,68.6 560.7,68.6 560.7,67.7 560.7,66.8 565.8,66.8 565.8,66.0 573.0,66.0 573.0,64.5 580.0,64.5 580.0,61.0 585.3,61.0 585.3,58.0 594.0,58.0 600.7,58.0 600.7,57.8 600.7,57.6 610.5,57.6 624.5,57.6 624.5,57.3 624.5,57.0 631.0,57.0 634.7,57.0 634.7,56.7 646.8,56.7 646.8,56.2 646.8,55.8 660.7,55.8 663.3,55.8 663.3,55.5 676.0,55.5 676.0,55.0 676.0,52.9 684.8,52.9 684.8,49.3 688.4,49.3 688.4,48.0 697.0,48.0 701.1,48.0 701.1,44.1 701.1,41.0 706.0,41.0 711.7,41.0 711.7,40.6 718.9,40.6 718.9,40.2 730.8,40.2 730.8,39.8 730.8,39.6 735.7,39.6 747.3,39.6 747.3,38.7 747.3,38.0 760.0,38.0" fill="none" stroke="#b63646" stroke-width="2.2" stroke-linejoin="miter"/>
<path d="M84.0,714.0 84.2,714.0 84.2,698.1 84.4,698.1 84.4,689.3 84.8,689.3 84.8,683.2 85.0,683.2 85.0,680.0 85.0,669.8 85.6,669.8 85.8,669.8 85.8,659.6 86.5,659.6 86.5,648.9 87.0,648.9 87.0,640.0 87.0,627.7 88.0,627.7 88.0,612.5 88.3,612.5 88.8,612.5 88.8,604.7 88.8,600.0 90.0,600.0 91.3,600.0 91.3,586.7 91.3,571.4 92.1,571.4 92.7,571.4 92.7,566.4 94.0,566.4 94.0,560.0 94.0,546.2 95.4,546.2 95.4,540.0 97.0,540.0 97.2,540.0 97.2,533.9 97.2,522.2 97.8,522.2 98.0,522.2 98.0,511.0 98.0,504.4 98.1,504.4 98.1,493.4 98.4,493.4 98.4,485.2 98.8,485.2 98.8,475.0 99.0,475.0 102.0,475.0 102.0,464.0 102.2,464.0 102.2,456.6 102.3,456.6 102.3,445.1 102.5,445.1 102.5,441.6 102.5,433.4 102.5,433.4 102.7,433.4 102.7,417.4 102.8,417.4 102.8,407.9 102.8,398.0 103.0,398.0 106.6,398.0 106.6,393.2 108.0,393.2 108.0,387.0 108.0,383.0 113.1,383.0 113.1,374.6 117.8,374.6 120.0,374.6 120.0,370.0 120.0,362.9 121.2,362.9 122.4,362.9 122.4,353.0 123.9,353.0 123.9,339.1 123.9,332.0 126.0,332.0 130.7,332.0 130.7,323.5 133.8,323.5 133.8,316.1 135.0,316.1 135.0,311.0 137.1,311.0 137.1,300.8 137.1,296.0 140.0,296.0 140.0,289.7 142.5,289.7 142.5,281.0 144.0,281.0 144.7,281.0 144.7,272.8 144.7,264.0 147.0,264.0 155.0,264.0 155.0,263.7 170.0,263.7 170.0,263.0 170.0,263.0 170.0,253.7 170.0,253.7 170.0,245.0 170.0,237.0 170.0,237.0 177.1,237.0 177.1,234.6 177.1,232.0 184.0,232.0 184.0,232.0 184.0,228.9 184.0,228.9 184.0,214.0 184.0,213.1 193.6,213.1 193.6,212.0 200.0,212.0 202.5,212.0 202.5,204.0 202.5,200.0 204.0,200.0 204.0,194.0 210.0,194.0 216.5,194.0 216.5,188.0 216.5,186.0 220.0,186.0 223.1,186.0 223.1,181.6 223.1,172.0 226.0,172.0 227.3,172.0 227.3,164.5 227.3,160.0 230.0,160.0 230.0,152.0 236.0,152.0 236.0,146.0 244.0,146.0 246.5,146.0 246.5,139.6 250.0,139.6 250.0,134.0 254.3,134.0 254.3,132.0 262.0,132.0 262.0,130.0 269.1,130.0 269.1,126.3 276.0,126.3 276.0,123.0 276.0,120.3 283.9,120.3 291.9,120.3 291.9,118.8 291.9,116.0 297.0,116.0 297.0,112.1 301.7,112.1 310.0,112.1 310.0,108.0 315.7,108.0 315.7,107.4 325.2,107.4 325.2,107.0 339.0,107.0 339.0,106.0 339.0,100.0 346.0,100.0 356.0,100.0 356.0,97.6 356.0,96.0 361.0,96.0 369.9,96.0 369.9,94.1 369.9,91.0 378.0,91.0 394.3,91.0 394.3,91.0 394.3,91.0 403.0,91.0 403.0,90.0 413.7,90.0 424.0,90.0 424.0,87.0 431.5,87.0 431.5,85.5 438.0,85.5 438.0,83.6 444.5,83.6 444.5,80.8 452.0,80.8 452.0,77.0 452.0,75.9 461.7,75.9 476.2,75.9 476.2,74.4 481.6,74.4 481.6,73.6 489.9,73.6 489.9,72.9 489.9,71.0 494.0,71.0 506.7,71.0 506.7,67.3 506.7,66.0 514.0,66.0 520.1,66.0 520.1,63.4 520.1,61.1 526.4,61.1 536.0,61.1 536.0,58.0 536.0,56.9 551.0,56.9 551.0,55.7 553.8,55.7 566.9,55.7 566.9,54.2 570.0,54.2 570.0,53.0 577.9,53.0 577.9,52.6 577.9,51.9 585.6,51.9 601.0,51.9 601.0,51.0 601.0,50.6 614.8,50.6 614.8,50.3 628.8,50.3 634.4,50.3 634.4,50.1 638.5,50.1 638.5,49.0 638.5,48.0 646.0,48.0 646.0,47.6 655.8,47.6 668.7,47.6 668.7,47.4 674.2,47.4 674.2,47.1 682.3,47.1 682.3,46.7 682.3,46.0 691.0,46.0 701.5,46.0 701.5,45.7 701.5,45.1 714.9,45.1 714.9,44.0 721.0,44.0 721.0,41.8 732.4,41.8 742.1,41.8 742.1,39.8 742.1,39.3 753.6,39.3 760.0,39.3 760.0,38.0" fill="none" stroke="#6a6af0" stroke-width="2.2" stroke-linejoin="miter"/>
<path d="M84.0,714.0 84.0,705.8 84.4,705.8 84.6,705.8 84.6,697.5 85.1,697.5 85.1,692.0 86.0,692.0 86.0,680.0 86.5,680.0 86.5,671.4 87.4,671.4 87.4,658.9 87.4,645.6 88.4,645.6 88.4,640.0 89.0,640.0 89.0,630.3 90.2,630.3 91.2,630.3 91.2,616.7 92.1,616.7 92.1,603.5 93.0,603.5 93.0,600.0 93.0,591.1 93.8,591.1 94.6,591.1 94.6,583.7 94.6,572.8 96.7,572.8 97.5,572.8 97.5,563.7 99.0,563.7 99.0,560.0 99.0,548.5 101.2,548.5 103.6,548.5 103.6,536.3 104.1,536.3 104.1,530.0 105.3,530.0 105.3,523.1 106.0,523.1 106.0,520.0 106.0,515.5 107.5,515.5 109.4,515.5 109.4,505.5 110.6,505.5 110.6,499.5 110.6,490.2 112.9,490.2 114.0,490.2 114.0,480.0 114.0,470.3 116.4,470.3 116.4,466.0 118.9,466.0 118.9,460.1 120.0,460.1 121.7,460.1 121.7,451.7 121.7,440.0 124.0,440.0 127.1,440.0 127.1,429.6 128.4,429.6 128.4,426.2 128.4,423.2 130.3,423.2 130.3,410.2 133.8,410.2 133.8,400.0 135.0,400.0 135.0,394.7 138.5,394.7 141.0,394.7 141.0,388.4 141.0,375.3 144.0,375.3 144.0,364.3 146.0,364.3 146.0,360.0 148.0,360.0 152.6,360.0 152.6,349.4 154.6,349.4 154.6,340.9 154.6,338.8 157.2,338.8 157.2,333.7 159.2,333.7 159.2,325.0 162.0,325.0 162.0,317.3 166.5,317.3 171.3,317.3 171.3,312.5 171.3,306.9 172.4,306.9 172.4,302.0 175.0,302.0 175.0,295.0 178.0,295.0 178.0,285.2 180.1,285.2 182.2,285.2 182.2,280.6 185.4,280.6 185.4,278.1 194.1,278.1 194.1,276.1 196.0,276.1 196.0,265.0 202.0,265.0 202.0,257.8 207.1,257.8 207.1,251.3 207.1,244.0 209.2,244.0 215.0,244.0 215.0,240.0 218.5,240.0 218.5,235.3 218.5,231.1 222.5,231.1 227.2,231.1 227.2,224.2 231.6,224.2 231.6,217.0 240.0,217.0 240.0,215.0 243.3,215.0 243.3,207.6 243.3,205.9 247.4,205.9 247.4,197.9 255.6,197.9 257.4,197.9 257.4,192.8 257.4,190.0 265.0,190.0 265.0,184.1 271.9,184.1 276.2,184.1 276.2,179.2 276.2,173.6 282.5,173.6 286.7,173.6 286.7,171.4 286.7,170.0 295.0,170.0 303.8,170.0 303.8,167.8 310.5,167.8 310.5,165.3 314.3,165.3 314.3,160.8 314.3,158.5 317.1,158.5 317.1,154.3 322.7,154.3 330.0,154.3 330.0,150.0 330.0,147.5 341.5,147.5 350.7,147.5 350.7,145.5 353.9,145.5 353.9,141.9 353.9,139.4 356.8,139.4 356.8,134.7 365.0,134.7 365.0,130.0 370.0,130.0 378.0,130.0 378.0,127.1 386.6,127.1 386.6,125.4 386.6,122.2 391.7,122.2 391.7,121.0 397.7,121.0 404.1,121.0 404.1,117.2 410.0,117.2 410.0,115.0 410.0,113.3 417.7,113.3 417.7,109.7 423.3,109.7 435.0,109.7 435.0,108.7 435.0,106.8 442.2,106.8 442.2,102.4 446.6,102.4 449.1,102.4 449.1,101.3 460.0,101.3 460.0,98.0 471.5,98.0 471.5,95.3 474.3,95.3 474.3,92.7 474.3,91.2 479.4,91.2 479.4,88.3 492.9,88.3 505.6,88.3 505.6,86.9 505.6,85.2 510.7,85.2 516.9,85.2 516.9,83.4 520.0,83.4 520.0,82.0 528.6,82.0 528.6,80.8 528.6,77.7 535.1,77.7 546.0,77.7 546.0,76.6 559.2,76.6 559.2,75.2 568.9,75.2 568.9,72.5 568.9,70.7 574.9,70.7 584.8,70.7 584.8,69.1 590.9,69.1 590.9,66.5 595.1,66.5 595.1,65.2 595.1,64.0 600.0,64.0 613.2,64.0 613.2,63.1 613.2,61.8 625.0,61.8 625.0,59.4 636.5,59.4 647.1,59.4 647.1,58.6 647.1,57.9 658.2,57.9 658.2,55.3 663.6,55.3 671.8,55.3 671.8,54.8 671.8,52.3 677.5,52.3 677.5,50.0 680.0,50.0 689.4,50.0 689.4,48.1 689.4,47.7 699.6,47.7 709.6,47.7 709.6,45.7 722.0,45.7 722.0,44.2 722.0,43.1 725.5,43.1 725.5,42.1 737.8,42.1 743.7,42.1 743.7,40.4 747.1,40.4 747.1,39.5 760.0,39.5 760.0,38.0" fill="none" stroke="#eeeeee" stroke-width="2" stroke-linejoin="miter"/>
<path d="M84.0,714.0 760.0,38.0" fill="none" stroke="#3896a8" stroke-width="2" stroke-linejoin="miter"/></g>
<line x1="84" y1="38.8" x2="761.2" y2="38.8" stroke="#707070" stroke-width="2.6"/>
<line x1="760" y1="38" x2="760" y2="714" stroke="#747474" stroke-width="2.6"/>
<line x1="84.4" y1="37" x2="84.4" y2="715" stroke="#3c3c3c" stroke-width="2.4"/>
<line x1="83" y1="714.3" x2="761.3" y2="714.3" stroke="#484848" stroke-width="2.4"/>
<line x1="72" y1="714.0" x2="84" y2="714.0" stroke="#3c3c3c" stroke-width="2"/>
<line x1="84.0" y1="714" x2="84.0" y2="726" stroke="#3c3c3c" stroke-width="2"/>
<g transform="translate(71.5,724.0) scale(1,1.09)"><text x="0" y="0" font-size="20.5" text-anchor="end" textLength="26.8" lengthAdjust="spacingAndGlyphs" class="t">0.0</text></g>
<g transform="translate(84.6,747.0) scale(1,1.09)"><text x="0" y="0" font-size="20.5" text-anchor="middle" textLength="26.8" lengthAdjust="spacingAndGlyphs" class="t">0.0</text></g>
<line x1="72" y1="578.8" x2="84" y2="578.8" stroke="#3c3c3c" stroke-width="2"/>
<line x1="219.2" y1="714" x2="219.2" y2="726" stroke="#3c3c3c" stroke-width="2"/>
<g transform="translate(71.5,588.8) scale(1,1.09)"><text x="0" y="0" font-size="20.5" text-anchor="end" textLength="26.8" lengthAdjust="spacingAndGlyphs" class="t">0.2</text></g>
<g transform="translate(219.8,747.0) scale(1,1.09)"><text x="0" y="0" font-size="20.5" text-anchor="middle" textLength="26.8" lengthAdjust="spacingAndGlyphs" class="t">0.2</text></g>
<line x1="72" y1="443.6" x2="84" y2="443.6" stroke="#3c3c3c" stroke-width="2"/>
<line x1="354.4" y1="714" x2="354.4" y2="726" stroke="#3c3c3c" stroke-width="2"/>
<g transform="translate(71.5,453.6) scale(1,1.09)"><text x="0" y="0" font-size="20.5" text-anchor="end" textLength="26.8" lengthAdjust="spacingAndGlyphs" class="t">0.4</text></g>
<g transform="translate(355.0,747.0) scale(1,1.09)"><text x="0" y="0" font-size="20.5" text-anchor="middle" textLength="26.8" lengthAdjust="spacingAndGlyphs" class="t">0.4</text></g>
<line x1="72" y1="308.4" x2="84" y2="308.4" stroke="#3c3c3c" stroke-width="2"/>
<line x1="489.6" y1="714" x2="489.6" y2="726" stroke="#3c3c3c" stroke-width="2"/>
<g transform="translate(71.5,318.4) scale(1,1.09)"><text x="0" y="0" font-size="20.5" text-anchor="end" textLength="26.8" lengthAdjust="spacingAndGlyphs" class="t">0.6</text></g>
<g transform="translate(490.2,747.0) scale(1,1.09)"><text x="0" y="0" font-size="20.5" text-anchor="middle" textLength="26.8" lengthAdjust="spacingAndGlyphs" class="t">0.6</text></g>
<line x1="72" y1="173.2" x2="84" y2="173.2" stroke="#3c3c3c" stroke-width="2"/>
<line x1="624.8" y1="714" x2="624.8" y2="726" stroke="#3c3c3c" stroke-width="2"/>
<g transform="translate(71.5,183.2) scale(1,1.09)"><text x="0" y="0" font-size="20.5" text-anchor="end" textLength="26.8" lengthAdjust="spacingAndGlyphs" class="t">0.8</text></g>
<g transform="translate(625.4,747.0) scale(1,1.09)"><text x="0" y="0" font-size="20.5" text-anchor="middle" textLength="26.8" lengthAdjust="spacingAndGlyphs" class="t">0.8</text></g>
<line x1="72" y1="38.0" x2="84" y2="38.0" stroke="#3c3c3c" stroke-width="2"/>
<line x1="760.0" y1="714" x2="760.0" y2="726" stroke="#3c3c3c" stroke-width="2"/>
<g transform="translate(71.5,48.0) scale(1,1.09)"><text x="0" y="0" font-size="20.5" text-anchor="end" textLength="26.8" lengthAdjust="spacingAndGlyphs" class="t">1.0</text></g>
<g transform="translate(760.6,747.0) scale(1,1.09)"><text x="0" y="0" font-size="20.5" text-anchor="middle" textLength="26.8" lengthAdjust="spacingAndGlyphs" class="t">1.0</text></g>
<g transform="translate(430.8,25.6) scale(1,1.10)"><text x="0" y="0" font-size="28.5" font-weight="bold" textLength="154" lengthAdjust="spacingAndGlyphs">ROC Curve</text></g>
<text x="423" y="790" font-size="26" font-weight="bold" text-anchor="middle">1 - Specificity</text>
<text transform="translate(23.5,376) rotate(-90)" font-size="26" font-weight="bold" text-anchor="middle">Sensitivity</text>
<g transform="translate(873,70) scale(1,1.08)"><text x="0" y="0" font-size="22.5" text-anchor="middle" textLength="136" lengthAdjust="spacingAndGlyphs" class="t">Source of the</text></g>
<g transform="translate(873,92.5) scale(1,1.08)"><text x="0" y="0" font-size="22.5" text-anchor="middle" textLength="56" lengthAdjust="spacingAndGlyphs" class="t">Curve</text></g>
<line x1="789" y1="120.2" x2="822" y2="120.2" stroke="#6e79c0" stroke-width="2.2"/>
<text x="825.6" y="128.8" font-size="20" textLength="36.0" lengthAdjust="spacingAndGlyphs" class="t">Age</text>
<line x1="789" y1="144.1" x2="822" y2="144.1" stroke="#5fb86a" stroke-width="2.2"/>
<text x="825.6" y="152.7" font-size="20" textLength="44.7" lengthAdjust="spacingAndGlyphs" class="t">NVIA</text>
<line x1="789" y1="167.9" x2="822" y2="167.9" stroke="#cfc9a0" stroke-width="2.2"/>
<text x="825.6" y="176.5" font-size="20" textLength="43.5" lengthAdjust="spacingAndGlyphs" class="t">NVIC</text>
<line x1="789" y1="191.8" x2="822" y2="191.8" stroke="#8c4f96" stroke-width="2.2"/>
<text x="825.6" y="200.3" font-size="20" textLength="52.2" lengthAdjust="spacingAndGlyphs" class="t">NSVC</text>
<line x1="789" y1="215.6" x2="822" y2="215.6" stroke="#f7f2a0" stroke-width="2.2"/>
<text x="825.6" y="224.2" font-size="20" textLength="27.4" lengthAdjust="spacingAndGlyphs" class="t">ZA</text>
<line x1="789" y1="239.4" x2="822" y2="239.4" stroke="#e0505a" stroke-width="2.2"/>
<text x="825.6" y="248.0" font-size="20" textLength="35.7" lengthAdjust="spacingAndGlyphs" class="t">NNL</text>
<line x1="789" y1="263.3" x2="822" y2="263.3" stroke="#7ccad0" stroke-width="2.2"/>
<text x="825.6" y="271.9" font-size="20" textLength="23.6" lengthAdjust="spacingAndGlyphs" class="t">PC</text>
<line x1="789" y1="287.2" x2="822" y2="287.2" stroke="#d8d8d8" stroke-width="2.2"/>
<text x="825.6" y="295.8" font-size="20" textLength="44.7" lengthAdjust="spacingAndGlyphs" class="t">NIVA</text>
<line x1="789" y1="311.0" x2="822" y2="311.0" stroke="#8fb0d8" stroke-width="2.2"/>
<text x="825.6" y="319.6" font-size="20" textLength="52.2" lengthAdjust="spacingAndGlyphs" class="t">NNZA</text>
<line x1="789" y1="334.9" x2="822" y2="334.9" stroke="#4a7a5a" stroke-width="2.2"/>
<text x="825.6" y="343.5" font-size="20" textLength="39.9" lengthAdjust="spacingAndGlyphs" class="t">PNIC</text>
<line x1="789" y1="358.7" x2="822" y2="358.7" stroke="#f5a040" stroke-width="2.2"/>
<text x="825.6" y="367.3" font-size="20" textLength="30.9" lengthAdjust="spacingAndGlyphs" class="t">VIC</text>
<line x1="789" y1="382.6" x2="822" y2="382.6" stroke="#e0b8e8" stroke-width="2.2"/>
<text x="825.6" y="391.2" font-size="20" textLength="41.0" lengthAdjust="spacingAndGlyphs" class="t">NFIA</text>
<line x1="789" y1="406.4" x2="822" y2="406.4" stroke="#3d6a78" stroke-width="2.2"/>
<text x="825.6" y="415.0" font-size="20" textLength="28.9" lengthAdjust="spacingAndGlyphs" class="t">BIC</text>
<line x1="789" y1="430.2" x2="822" y2="430.2" stroke="#d8f0c8" stroke-width="2.2"/>
<text x="825.6" y="438.9" font-size="20" textLength="55.3" lengthAdjust="spacingAndGlyphs" class="t">HGGA</text>
<line x1="789" y1="454.1" x2="822" y2="454.1" stroke="#c8508a" stroke-width="2.2"/>
<text x="825.6" y="462.7" font-size="20" textLength="53.8" lengthAdjust="spacingAndGlyphs" class="t">CGBA</text>
<line x1="789" y1="477.9" x2="822" y2="477.9" stroke="#a8a8a8" stroke-width="2.2"/>
<text x="825.6" y="486.6" font-size="20" textLength="37.5" lengthAdjust="spacingAndGlyphs" class="t">CGL</text>
<line x1="789" y1="501.8" x2="822" y2="501.8" stroke="#202020" stroke-width="2.2"/>
<text x="825.6" y="510.4" font-size="20" textLength="39.4" lengthAdjust="spacingAndGlyphs" class="t">GGL</text>
<line x1="789" y1="525.7" x2="822" y2="525.7" stroke="#c8eaea" stroke-width="2.2"/>
<text x="825.6" y="534.3" font-size="20" textLength="55.6" lengthAdjust="spacingAndGlyphs" class="t">GHGA</text>
<line x1="789" y1="549.5" x2="822" y2="549.5" stroke="#ffffff" stroke-width="2.2"/>
<text x="825.6" y="558.1" font-size="20" textLength="37.5" lengthAdjust="spacingAndGlyphs" class="t">HML</text>
<line x1="789" y1="573.4" x2="822" y2="573.4" stroke="#9a98c8" stroke-width="2.2"/>
<text x="825.6" y="582.0" font-size="20" textLength="37.5" lengthAdjust="spacingAndGlyphs" class="t">COL</text>
<line x1="789" y1="597.2" x2="822" y2="597.2" stroke="#88d890" stroke-width="2.2"/>
<text x="825.6" y="605.8" font-size="20" textLength="41.7" lengthAdjust="spacingAndGlyphs" class="t">COLI</text>
<line x1="789" y1="621.1" x2="822" y2="621.1" stroke="#5a5a5a" stroke-width="2.2"/>
<text x="825.6" y="629.7" font-size="20" textLength="53.5" lengthAdjust="spacingAndGlyphs" class="t">CMHA</text>
<line x1="789" y1="644.9" x2="822" y2="644.9" stroke="#b8d4ee" stroke-width="2.2"/>
<text x="825.6" y="653.5" font-size="20" textLength="53.8" lengthAdjust="spacingAndGlyphs" class="t">HGGC</text>
<line x1="789" y1="668.8" x2="822" y2="668.8" stroke="#b83848" stroke-width="2.2"/>
<text x="825.6" y="677.4" font-size="20" textLength="42.9" lengthAdjust="spacingAndGlyphs" class="t">COIC</text>
<line x1="789" y1="692.6" x2="822" y2="692.6" stroke="#7070e8" stroke-width="2.2"/>
<text x="825.6" y="701.2" font-size="20" textLength="68.2" lengthAdjust="spacingAndGlyphs" class="t">HGGMC</text>
<line x1="789" y1="716.5" x2="822" y2="716.5" stroke="#ececec" stroke-width="2.2"/>
<text x="825.6" y="725.1" font-size="20" textLength="69.8" lengthAdjust="spacingAndGlyphs" class="t">HGGMA</text>
<line x1="789" y1="740.3" x2="822" y2="740.3" stroke="#3a9aa8" stroke-width="2.2"/>
<text x="825.6" y="748.9" font-size="20" textLength="131.5" lengthAdjust="spacingAndGlyphs" class="t">Reference Line</text>
</svg></body></html>
